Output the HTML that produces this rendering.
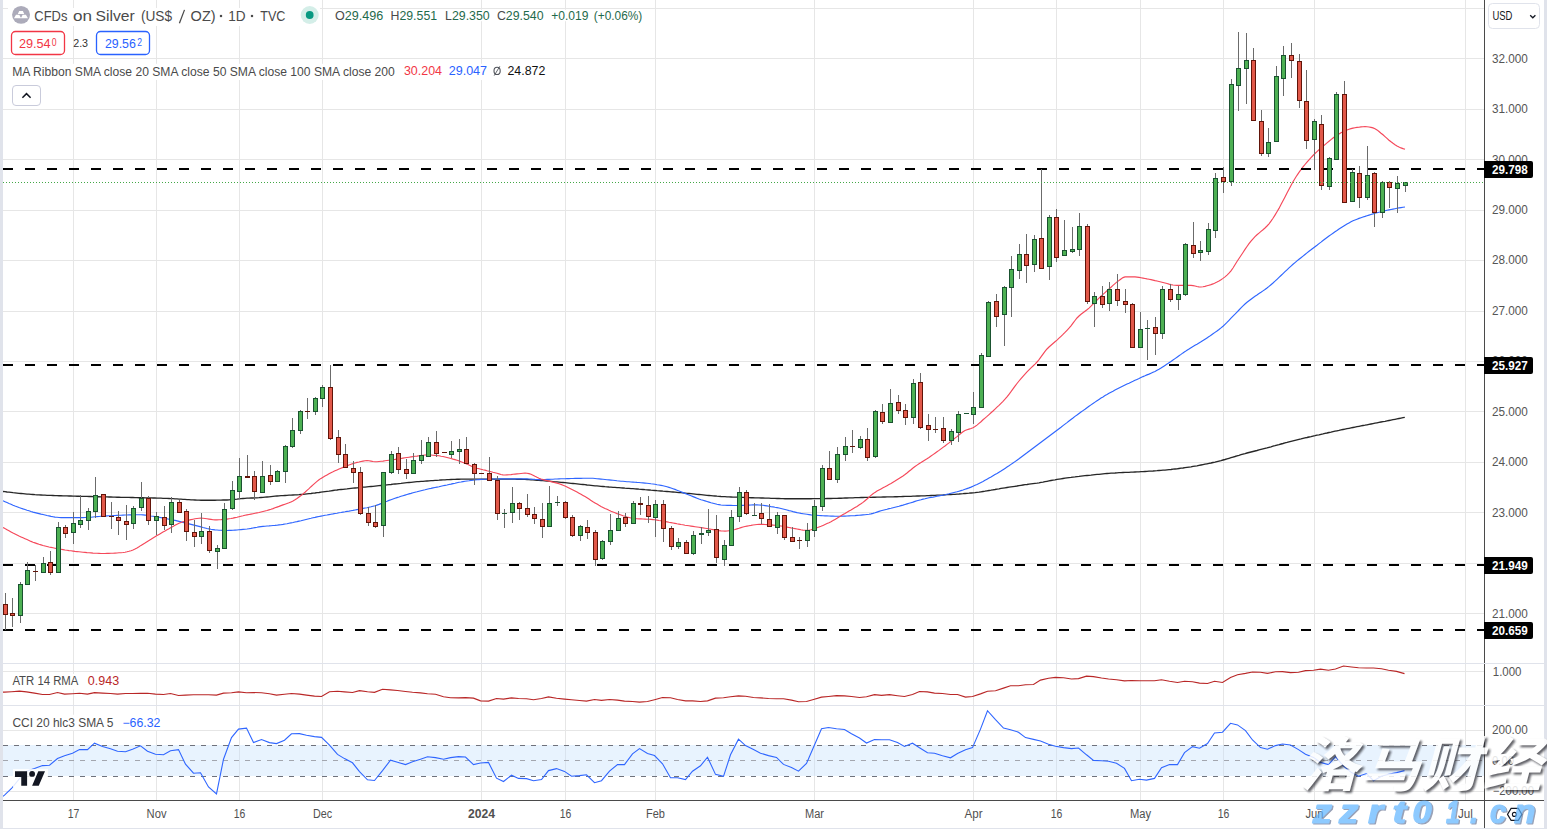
<!DOCTYPE html><html><head><meta charset="utf-8"><title>chart</title><style>html,body{margin:0;padding:0;background:#fff;width:1547px;height:829px;overflow:hidden}</style></head><body><svg width="1547" height="829" viewBox="0 0 1547 829" style="position:absolute;left:0;top:0;font-family:'Liberation Sans',sans-serif"><rect width="1547" height="829" fill="#fff"/><g shape-rendering="crispEdges"><rect x="73" y="0" width="1" height="800" fill="#e6e6e6"/><rect x="156" y="0" width="1" height="800" fill="#e6e6e6"/><rect x="239" y="0" width="1" height="800" fill="#e6e6e6"/><rect x="322" y="0" width="1" height="800" fill="#e6e6e6"/><rect x="481" y="0" width="1" height="800" fill="#e6e6e6"/><rect x="565" y="0" width="1" height="800" fill="#e6e6e6"/><rect x="655" y="0" width="1" height="800" fill="#e6e6e6"/><rect x="814" y="0" width="1" height="800" fill="#e6e6e6"/><rect x="973" y="0" width="1" height="800" fill="#e6e6e6"/><rect x="1056" y="0" width="1" height="800" fill="#e6e6e6"/><rect x="1140" y="0" width="1" height="800" fill="#e6e6e6"/><rect x="1223" y="0" width="1" height="800" fill="#e6e6e6"/><rect x="1314" y="0" width="1" height="800" fill="#e6e6e6"/><rect x="1465" y="0" width="1" height="800" fill="#e6e6e6"/><rect x="3" y="8" width="1481" height="1" fill="#e6e6e6"/><rect x="3" y="58" width="1481" height="1" fill="#e6e6e6"/><rect x="3" y="109" width="1481" height="1" fill="#e6e6e6"/><rect x="3" y="159" width="1481" height="1" fill="#e6e6e6"/><rect x="3" y="210" width="1481" height="1" fill="#e6e6e6"/><rect x="3" y="260" width="1481" height="1" fill="#e6e6e6"/><rect x="3" y="311" width="1481" height="1" fill="#e6e6e6"/><rect x="3" y="361" width="1481" height="1" fill="#e6e6e6"/><rect x="3" y="411" width="1481" height="1" fill="#e6e6e6"/><rect x="3" y="462" width="1481" height="1" fill="#e6e6e6"/><rect x="3" y="512" width="1481" height="1" fill="#e6e6e6"/><rect x="3" y="563" width="1481" height="1" fill="#e6e6e6"/><rect x="3" y="613" width="1481" height="1" fill="#e6e6e6"/><rect x="3" y="671" width="1481" height="1" fill="#e6e6e6"/><rect x="3" y="730" width="1481" height="1" fill="#e6e6e6"/><rect x="3" y="791" width="1481" height="1" fill="#e6e6e6"/><rect x="3" y="745" width="1481" height="31" fill="#e8f3fe"/><rect x="73" y="745" width="1" height="31" fill="#d9e3ee"/><rect x="156" y="745" width="1" height="31" fill="#d9e3ee"/><rect x="239" y="745" width="1" height="31" fill="#d9e3ee"/><rect x="322" y="745" width="1" height="31" fill="#d9e3ee"/><rect x="481" y="745" width="1" height="31" fill="#d9e3ee"/><rect x="565" y="745" width="1" height="31" fill="#d9e3ee"/><rect x="655" y="745" width="1" height="31" fill="#d9e3ee"/><rect x="814" y="745" width="1" height="31" fill="#d9e3ee"/><rect x="973" y="745" width="1" height="31" fill="#d9e3ee"/><rect x="1056" y="745" width="1" height="31" fill="#d9e3ee"/><rect x="1140" y="745" width="1" height="31" fill="#d9e3ee"/><rect x="1223" y="745" width="1" height="31" fill="#d9e3ee"/><rect x="1314" y="745" width="1" height="31" fill="#d9e3ee"/><rect x="1465" y="745" width="1" height="31" fill="#d9e3ee"/></g><line x1="3" y1="745.5" x2="1484" y2="745.5" stroke="#6f727c" stroke-width="1" stroke-dasharray="5 6" shape-rendering="crispEdges"/><line x1="3" y1="760.5" x2="1484" y2="760.5" stroke="#a3a6ae" stroke-width="1" stroke-dasharray="5 6" shape-rendering="crispEdges"/><line x1="3" y1="776.5" x2="1484" y2="776.5" stroke="#6f727c" stroke-width="1" stroke-dasharray="5 6" shape-rendering="crispEdges"/><polyline fill="none" stroke="#262626" stroke-width="1.35" points="3.0,491.5 5.0,491.7 7.0,492.0 9.0,492.2 11.0,492.4 13.0,492.7 15.0,492.9 17.0,493.1 19.0,493.3 21.0,493.5 23.0,493.7 25.0,493.9 27.0,494.1 29.0,494.2 31.0,494.4 33.0,494.5 35.0,494.7 37.0,494.8 39.0,494.9 41.0,495.0 43.0,495.1 45.0,495.2 47.0,495.3 49.0,495.3 51.0,495.4 53.0,495.5 55.0,495.6 57.0,495.6 59.0,495.7 61.0,495.7 63.0,495.8 65.0,495.9 67.0,495.9 69.0,496.0 71.0,496.0 73.0,496.1 75.0,496.1 77.0,496.2 79.0,496.2 81.0,496.3 83.0,496.3 85.0,496.4 87.0,496.4 89.0,496.5 91.0,496.5 93.0,496.6 95.0,496.6 97.0,496.7 99.0,496.7 101.0,496.8 103.0,496.8 105.0,496.9 107.0,496.9 109.0,497.0 111.0,497.0 113.0,497.1 115.0,497.1 117.0,497.2 119.0,497.2 121.0,497.3 123.0,497.3 125.0,497.3 127.0,497.4 129.0,497.4 131.0,497.5 133.0,497.5 135.0,497.6 137.0,497.6 139.0,497.7 141.0,497.7 143.0,497.7 145.0,497.8 147.0,497.8 149.0,497.9 151.0,497.9 153.0,498.0 155.0,498.0 157.0,498.1 159.0,498.1 161.0,498.2 163.0,498.3 165.0,498.3 167.0,498.4 169.0,498.5 171.0,498.6 173.0,498.7 175.0,498.8 177.0,498.9 179.0,499.1 181.0,499.2 183.0,499.3 185.0,499.4 187.0,499.6 189.0,499.7 191.0,499.8 193.0,499.9 195.0,500.0 197.0,500.1 199.0,500.1 201.0,500.2 203.0,500.2 205.0,500.2 207.0,500.2 209.0,500.2 211.0,500.2 213.0,500.2 215.0,500.2 217.0,500.1 219.0,500.1 221.0,500.1 223.0,500.0 225.0,500.0 227.0,500.0 229.0,499.9 231.0,499.7 233.0,499.6 235.0,499.4 237.0,499.2 239.0,498.9 241.0,498.7 243.0,498.5 245.0,498.4 247.0,498.2 249.0,498.1 251.0,498.0 253.0,498.0 255.0,497.9 257.0,497.8 259.0,497.7 261.0,497.5 263.0,497.4 265.0,497.2 267.0,497.0 269.0,496.8 271.0,496.6 273.0,496.4 275.0,496.2 277.0,496.0 279.0,495.9 281.0,495.7 283.0,495.6 285.0,495.5 287.0,495.4 289.0,495.2 291.0,495.1 293.0,495.0 295.0,494.9 297.0,494.8 299.0,494.7 301.0,494.5 303.0,494.3 305.0,494.1 307.0,493.9 309.0,493.7 311.0,493.5 313.0,493.2 315.0,493.0 317.0,492.7 319.0,492.5 321.0,492.2 323.0,491.9 325.0,491.6 327.0,491.3 329.0,491.1 331.0,490.8 333.0,490.5 335.0,490.2 337.0,490.0 339.0,489.7 341.0,489.5 343.0,489.3 345.0,489.1 347.0,488.9 349.0,488.6 351.0,488.4 353.0,488.2 355.0,488.0 357.0,487.8 359.0,487.6 361.0,487.4 363.0,487.2 365.0,487.1 367.0,486.9 369.0,486.7 371.0,486.5 373.0,486.3 375.0,486.1 377.0,485.9 379.0,485.7 381.0,485.5 383.0,485.3 385.0,485.1 387.0,484.9 389.0,484.7 391.0,484.5 393.0,484.2 395.0,484.0 397.0,483.8 399.0,483.6 401.0,483.4 403.0,483.1 405.0,482.9 407.0,482.7 409.0,482.5 411.0,482.3 413.0,482.1 415.0,481.9 417.0,481.7 419.0,481.6 421.0,481.4 423.0,481.3 425.0,481.1 427.0,481.0 429.0,480.9 431.0,480.7 433.0,480.6 435.0,480.4 437.0,480.3 439.0,480.2 441.0,480.0 443.0,479.9 445.0,479.8 447.0,479.7 449.0,479.6 451.0,479.5 453.0,479.4 455.0,479.3 457.0,479.2 459.0,479.2 461.0,479.1 463.0,479.1 465.0,479.1 467.0,479.1 469.0,479.1 471.0,479.1 473.0,479.1 475.0,479.1 477.0,479.1 479.0,479.1 481.0,479.1 483.0,479.1 485.0,479.1 487.0,479.1 489.0,479.1 491.0,479.1 493.0,479.1 495.0,479.1 497.0,479.1 499.0,479.1 501.0,479.1 503.0,479.1 505.0,479.1 507.0,479.1 509.0,479.1 511.0,479.1 513.0,479.1 515.0,479.1 517.0,479.2 519.0,479.2 521.0,479.2 523.0,479.3 525.0,479.4 527.0,479.5 529.0,479.6 531.0,479.8 533.0,479.9 535.0,480.1 537.0,480.3 539.0,480.4 541.0,480.6 543.0,480.7 545.0,480.9 547.0,481.1 549.0,481.2 551.0,481.4 553.0,481.6 555.0,481.8 557.0,481.9 559.0,482.1 561.0,482.3 563.0,482.5 565.0,482.7 567.0,482.9 569.0,483.1 571.0,483.3 573.0,483.5 575.0,483.7 577.0,483.9 579.0,484.1 581.0,484.3 583.0,484.5 585.0,484.7 587.0,485.0 589.0,485.2 591.0,485.4 593.0,485.6 595.0,485.8 597.0,485.9 599.0,486.1 601.0,486.3 603.0,486.5 605.0,486.7 607.0,486.8 609.0,487.0 611.0,487.1 613.0,487.3 615.0,487.4 617.0,487.6 619.0,487.7 621.0,487.9 623.0,488.0 625.0,488.2 627.0,488.3 629.0,488.4 631.0,488.6 633.0,488.7 635.0,488.9 637.0,489.0 639.0,489.2 641.0,489.3 643.0,489.5 645.0,489.7 647.0,489.8 649.0,490.0 651.0,490.2 653.0,490.3 655.0,490.5 657.0,490.7 659.0,490.8 661.0,491.0 663.0,491.2 665.0,491.3 667.0,491.5 669.0,491.7 671.0,491.9 673.0,492.0 675.0,492.2 677.0,492.4 679.0,492.6 681.0,492.7 683.0,492.9 685.0,493.1 687.0,493.3 689.0,493.5 691.0,493.7 693.0,493.9 695.0,494.1 697.0,494.3 699.0,494.5 701.0,494.7 703.0,494.9 705.0,495.1 707.0,495.3 709.0,495.5 711.0,495.7 713.0,495.9 715.0,496.0 717.0,496.2 719.0,496.3 721.0,496.5 723.0,496.6 725.0,496.7 727.0,496.8 729.0,496.9 731.0,497.0 733.0,497.1 735.0,497.1 737.0,497.2 739.0,497.3 741.0,497.4 743.0,497.4 745.0,497.5 747.0,497.6 749.0,497.6 751.0,497.7 753.0,497.7 755.0,497.8 757.0,497.8 759.0,497.9 761.0,498.0 763.0,498.0 765.0,498.1 767.0,498.1 769.0,498.2 771.0,498.3 773.0,498.3 775.0,498.4 777.0,498.5 779.0,498.5 781.0,498.6 783.0,498.6 785.0,498.7 787.0,498.7 789.0,498.7 791.0,498.7 793.0,498.7 795.0,498.7 797.0,498.7 799.0,498.7 801.0,498.7 803.0,498.7 805.0,498.7 807.0,498.7 809.0,498.7 811.0,498.7 813.0,498.6 815.0,498.6 817.0,498.6 819.0,498.6 821.0,498.6 823.0,498.6 825.0,498.6 827.0,498.5 829.0,498.5 831.0,498.5 833.0,498.4 835.0,498.3 837.0,498.3 839.0,498.2 841.0,498.2 843.0,498.1 845.0,498.0 847.0,498.0 849.0,497.9 851.0,497.8 853.0,497.8 855.0,497.7 857.0,497.6 859.0,497.6 861.0,497.5 863.0,497.5 865.0,497.4 867.0,497.4 869.0,497.3 871.0,497.3 873.0,497.2 875.0,497.2 877.0,497.1 879.0,497.1 881.0,497.1 883.0,497.0 885.0,497.0 887.0,496.9 889.0,496.9 891.0,496.8 893.0,496.8 895.0,496.7 897.0,496.7 899.0,496.6 901.0,496.6 903.0,496.5 905.0,496.4 907.0,496.4 909.0,496.3 911.0,496.3 913.0,496.2 915.0,496.1 917.0,496.0 919.0,496.0 921.0,495.9 923.0,495.8 925.0,495.8 927.0,495.7 929.0,495.6 931.0,495.5 933.0,495.4 935.0,495.3 937.0,495.2 939.0,495.1 941.0,495.1 943.0,495.0 945.0,494.8 947.0,494.7 949.0,494.6 951.0,494.5 953.0,494.4 955.0,494.3 957.0,494.1 959.0,494.0 961.0,493.8 963.0,493.7 965.0,493.5 967.0,493.3 969.0,493.2 971.0,493.0 973.0,492.8 975.0,492.6 977.0,492.3 979.0,492.1 981.0,491.8 983.0,491.5 985.0,491.2 987.0,490.8 989.0,490.5 991.0,490.2 993.0,489.8 995.0,489.5 997.0,489.1 999.0,488.8 1001.0,488.4 1003.0,488.1 1005.0,487.8 1007.0,487.5 1009.0,487.2 1011.0,486.9 1013.0,486.6 1015.0,486.3 1017.0,486.0 1019.0,485.6 1021.0,485.3 1023.0,485.0 1025.0,484.7 1027.0,484.5 1029.0,484.2 1031.0,483.9 1033.0,483.6 1035.0,483.3 1037.0,483.1 1039.0,482.8 1041.0,482.4 1043.0,482.1 1045.0,481.7 1047.0,481.3 1049.0,480.9 1051.0,480.5 1053.0,480.1 1055.0,479.8 1057.0,479.4 1059.0,479.1 1061.0,478.8 1063.0,478.5 1065.0,478.2 1067.0,477.9 1069.0,477.6 1071.0,477.4 1073.0,477.1 1075.0,476.9 1077.0,476.6 1079.0,476.4 1081.0,476.1 1083.0,475.9 1085.0,475.7 1087.0,475.5 1089.0,475.3 1091.0,475.1 1093.0,474.8 1095.0,474.6 1097.0,474.4 1099.0,474.3 1101.0,474.1 1103.0,473.9 1105.0,473.7 1107.0,473.5 1109.0,473.4 1111.0,473.2 1113.0,473.1 1115.0,473.0 1117.0,472.8 1119.0,472.7 1121.0,472.6 1123.0,472.5 1125.0,472.4 1127.0,472.4 1129.0,472.3 1131.0,472.2 1133.0,472.1 1135.0,472.0 1137.0,471.9 1139.0,471.8 1141.0,471.7 1143.0,471.6 1145.0,471.5 1147.0,471.4 1149.0,471.2 1151.0,471.1 1153.0,471.0 1155.0,470.8 1157.0,470.7 1159.0,470.5 1161.0,470.4 1163.0,470.2 1165.0,470.1 1167.0,469.9 1169.0,469.7 1171.0,469.5 1173.0,469.2 1175.0,469.0 1177.0,468.8 1179.0,468.5 1181.0,468.2 1183.0,468.0 1185.0,467.7 1187.0,467.4 1189.0,467.1 1191.0,466.8 1193.0,466.4 1195.0,466.1 1197.0,465.8 1199.0,465.4 1201.0,465.0 1203.0,464.6 1205.0,464.2 1207.0,463.8 1209.0,463.4 1211.0,463.0 1213.0,462.5 1215.0,462.1 1217.0,461.6 1219.0,461.1 1221.0,460.6 1223.0,460.0 1225.0,459.5 1227.0,458.9 1229.0,458.3 1231.0,457.7 1233.0,457.1 1235.0,456.5 1237.0,455.8 1239.0,455.3 1241.0,454.7 1243.0,454.1 1245.0,453.6 1247.0,453.0 1249.0,452.5 1251.0,452.0 1253.0,451.5 1255.0,451.0 1257.0,450.5 1259.0,449.9 1261.0,449.4 1263.0,448.9 1265.0,448.4 1267.0,447.9 1269.0,447.3 1271.0,446.8 1273.0,446.2 1275.0,445.7 1277.0,445.1 1279.0,444.6 1281.0,444.0 1283.0,443.5 1285.0,442.9 1287.0,442.4 1289.0,441.8 1291.0,441.3 1293.0,440.8 1295.0,440.3 1297.0,439.8 1299.0,439.3 1301.0,438.9 1303.0,438.4 1305.0,437.9 1307.0,437.5 1309.0,437.0 1311.0,436.6 1313.0,436.1 1315.0,435.7 1317.0,435.2 1319.0,434.8 1321.0,434.3 1323.0,433.9 1325.0,433.4 1327.0,433.0 1329.0,432.5 1331.0,432.1 1333.0,431.6 1335.0,431.2 1337.0,430.8 1339.0,430.4 1341.0,429.9 1343.0,429.5 1345.0,429.1 1347.0,428.7 1349.0,428.3 1351.0,427.9 1353.0,427.5 1355.0,427.1 1357.0,426.7 1359.0,426.3 1361.0,425.9 1363.0,425.5 1365.0,425.2 1367.0,424.8 1369.0,424.4 1371.0,424.0 1373.0,423.6 1375.0,423.2 1377.0,422.8 1379.0,422.4 1381.0,422.0 1383.0,421.6 1385.0,421.3 1387.0,420.9 1389.0,420.5 1391.0,420.1 1393.0,419.7 1395.0,419.3 1397.0,418.9 1399.0,418.5 1401.0,418.1 1403.0,417.7 1404.8,417.4"/><polyline fill="none" stroke="#2f66ff" stroke-width="1.15" points="3.0,500.8 5.0,501.7 7.0,502.6 9.0,503.5 11.0,504.3 13.0,505.2 15.0,506.0 17.0,506.7 19.0,507.5 21.0,508.2 23.0,508.9 25.0,509.5 27.0,510.2 29.0,510.8 31.0,511.5 33.0,512.1 35.0,512.6 37.0,513.1 39.0,513.6 41.0,514.1 43.0,514.5 45.0,515.0 47.0,515.5 49.0,515.9 51.0,516.4 53.0,516.7 55.0,517.1 57.0,517.3 59.0,517.5 61.0,517.6 63.0,517.6 65.0,517.6 67.0,517.6 69.0,517.6 71.0,517.6 73.0,517.6 75.0,517.6 77.0,517.6 79.0,517.6 81.0,517.6 83.0,517.6 85.0,517.5 87.0,517.4 89.0,517.3 91.0,517.2 93.0,517.0 95.0,516.8 97.0,516.6 99.0,516.5 101.0,516.3 103.0,516.2 105.0,516.1 107.0,515.9 109.0,515.8 111.0,515.7 113.0,515.6 115.0,515.5 117.0,515.4 119.0,515.3 121.0,515.2 123.0,515.1 125.0,515.0 127.0,515.0 129.0,514.9 131.0,514.8 133.0,514.8 135.0,514.7 137.0,514.7 139.0,514.7 141.0,514.7 143.0,514.9 145.0,515.1 147.0,515.3 149.0,515.6 151.0,516.0 153.0,516.3 155.0,516.6 157.0,517.0 159.0,517.3 161.0,517.6 163.0,518.0 165.0,518.4 167.0,518.8 169.0,519.2 171.0,519.6 173.0,520.0 175.0,520.4 177.0,520.9 179.0,521.4 181.0,521.9 183.0,522.4 185.0,522.9 187.0,523.4 189.0,523.9 191.0,524.4 193.0,524.9 195.0,525.4 197.0,525.9 199.0,526.4 201.0,526.9 203.0,527.5 205.0,528.0 207.0,528.5 209.0,528.9 211.0,529.3 213.0,529.6 215.0,529.9 217.0,530.0 219.0,530.2 221.0,530.3 223.0,530.4 225.0,530.5 227.0,530.5 229.0,530.4 231.0,530.4 233.0,530.2 235.0,530.1 237.0,530.0 239.0,529.8 241.0,529.6 243.0,529.4 245.0,529.2 247.0,529.0 249.0,528.7 251.0,528.4 253.0,528.0 255.0,527.6 257.0,527.3 259.0,526.9 261.0,526.6 263.0,526.4 265.0,526.2 267.0,526.0 269.0,525.9 271.0,525.7 273.0,525.5 275.0,525.4 277.0,525.2 279.0,524.9 281.0,524.7 283.0,524.4 285.0,524.0 287.0,523.7 289.0,523.3 291.0,522.9 293.0,522.5 295.0,522.0 297.0,521.6 299.0,521.1 301.0,520.7 303.0,520.2 305.0,519.7 307.0,519.2 309.0,518.7 311.0,518.3 313.0,517.8 315.0,517.4 317.0,516.9 319.0,516.5 321.0,516.1 323.0,515.7 325.0,515.3 327.0,515.0 329.0,514.6 331.0,514.2 333.0,513.9 335.0,513.5 337.0,513.2 339.0,512.8 341.0,512.5 343.0,512.1 345.0,511.8 347.0,511.4 349.0,511.1 351.0,510.7 353.0,510.4 355.0,510.0 357.0,509.6 359.0,509.2 361.0,508.8 363.0,508.4 365.0,508.0 367.0,507.7 369.0,507.2 371.0,506.8 373.0,506.3 375.0,505.8 377.0,505.1 379.0,504.4 381.0,503.6 383.0,502.8 385.0,501.9 387.0,501.2 389.0,500.4 391.0,499.7 393.0,499.0 395.0,498.3 397.0,497.6 399.0,497.0 401.0,496.3 403.0,495.7 405.0,495.1 407.0,494.5 409.0,493.9 411.0,493.4 413.0,492.8 415.0,492.3 417.0,491.8 419.0,491.2 421.0,490.7 423.0,490.2 425.0,489.8 427.0,489.3 429.0,488.8 431.0,488.4 433.0,487.9 435.0,487.5 437.0,487.1 439.0,486.7 441.0,486.2 443.0,485.8 445.0,485.4 447.0,485.0 449.0,484.5 451.0,484.1 453.0,483.6 455.0,483.2 457.0,482.7 459.0,482.3 461.0,482.0 463.0,481.6 465.0,481.3 467.0,481.0 469.0,480.8 471.0,480.5 473.0,480.2 475.0,480.0 477.0,479.8 479.0,479.6 481.0,479.4 483.0,479.3 485.0,479.2 487.0,479.2 489.0,479.1 491.0,479.1 493.0,479.0 495.0,479.0 497.0,479.0 499.0,478.9 501.0,478.9 503.0,478.9 505.0,478.9 507.0,478.9 509.0,478.9 511.0,478.9 513.0,478.9 515.0,478.9 517.0,478.9 519.0,478.9 521.0,478.9 523.0,478.9 525.0,478.9 527.0,478.9 529.0,479.0 531.0,479.1 533.0,479.2 535.0,479.4 537.0,479.5 539.0,479.6 541.0,479.6 543.0,479.6 545.0,479.5 547.0,479.4 549.0,479.4 551.0,479.3 553.0,479.2 555.0,479.0 557.0,479.0 559.0,478.9 561.0,478.8 563.0,478.7 565.0,478.7 567.0,478.6 569.0,478.6 571.0,478.5 573.0,478.5 575.0,478.4 577.0,478.4 579.0,478.3 581.0,478.3 583.0,478.2 585.0,478.2 587.0,478.2 589.0,478.2 591.0,478.2 593.0,478.3 595.0,478.5 597.0,478.7 599.0,478.9 601.0,479.1 603.0,479.3 605.0,479.5 607.0,479.7 609.0,479.9 611.0,480.1 613.0,480.3 615.0,480.5 617.0,480.8 619.0,481.0 621.0,481.2 623.0,481.3 625.0,481.5 627.0,481.7 629.0,481.8 631.0,482.0 633.0,482.1 635.0,482.2 637.0,482.4 639.0,482.5 641.0,482.7 643.0,482.9 645.0,483.1 647.0,483.3 649.0,483.5 651.0,483.8 653.0,484.0 655.0,484.3 657.0,484.7 659.0,485.0 661.0,485.4 663.0,485.8 665.0,486.3 667.0,486.8 669.0,487.4 671.0,488.0 673.0,488.7 675.0,489.4 677.0,490.2 679.0,491.0 681.0,491.8 683.0,492.6 685.0,493.4 687.0,494.2 689.0,495.0 691.0,495.8 693.0,496.6 695.0,497.4 697.0,498.2 699.0,499.0 701.0,499.7 703.0,500.3 705.0,500.9 707.0,501.5 709.0,502.1 711.0,502.7 713.0,503.2 715.0,503.7 717.0,504.2 719.0,504.6 721.0,505.0 723.0,505.2 725.0,505.3 727.0,505.4 729.0,505.4 731.0,505.4 733.0,505.5 735.0,505.5 737.0,505.5 739.0,505.5 741.0,505.4 743.0,505.4 745.0,505.3 747.0,505.2 749.0,505.1 751.0,505.0 753.0,504.9 755.0,504.9 757.0,504.9 759.0,505.0 761.0,505.1 763.0,505.3 765.0,505.6 767.0,505.9 769.0,506.2 771.0,506.6 773.0,506.9 775.0,507.3 777.0,507.6 779.0,508.0 781.0,508.5 783.0,509.0 785.0,509.5 787.0,510.0 789.0,510.6 791.0,511.0 793.0,511.6 795.0,512.1 797.0,512.6 799.0,513.0 801.0,513.4 803.0,513.7 805.0,514.0 807.0,514.3 809.0,514.6 811.0,514.9 813.0,515.1 815.0,515.3 817.0,515.4 819.0,515.5 821.0,515.6 823.0,515.7 825.0,515.9 827.0,515.9 829.0,516.0 831.0,516.1 833.0,516.1 835.0,516.2 837.0,516.2 839.0,516.2 841.0,516.2 843.0,516.1 845.0,516.1 847.0,516.0 849.0,515.9 851.0,515.8 853.0,515.7 855.0,515.6 857.0,515.4 859.0,515.3 861.0,515.1 863.0,514.9 865.0,514.7 867.0,514.5 869.0,514.3 871.0,513.9 873.0,513.4 875.0,512.8 877.0,512.1 879.0,511.4 881.0,510.8 883.0,510.2 885.0,509.7 887.0,509.2 889.0,508.6 891.0,508.2 893.0,507.7 895.0,507.2 897.0,506.7 899.0,506.2 901.0,505.6 903.0,505.1 905.0,504.5 907.0,503.9 909.0,503.3 911.0,502.7 913.0,502.1 915.0,501.4 917.0,500.8 919.0,500.2 921.0,499.7 923.0,499.1 925.0,498.7 927.0,498.2 929.0,497.8 931.0,497.4 933.0,497.1 935.0,496.7 937.0,496.3 939.0,495.9 941.0,495.5 943.0,495.1 945.0,494.7 947.0,494.2 949.0,493.8 951.0,493.3 953.0,492.8 955.0,492.3 957.0,491.8 959.0,491.2 961.0,490.6 963.0,490.0 965.0,489.3 967.0,488.6 969.0,487.9 971.0,487.1 973.0,486.2 975.0,485.3 977.0,484.4 979.0,483.4 981.0,482.4 983.0,481.4 985.0,480.3 987.0,479.2 989.0,478.1 991.0,477.0 993.0,475.8 995.0,474.6 997.0,473.5 999.0,472.2 1001.0,471.0 1003.0,469.7 1005.0,468.4 1007.0,467.1 1009.0,465.8 1011.0,464.4 1013.0,463.0 1015.0,461.6 1017.0,460.2 1019.0,458.8 1021.0,457.3 1023.0,455.8 1025.0,454.3 1027.0,452.8 1029.0,451.2 1031.0,449.7 1033.0,448.2 1035.0,446.7 1037.0,445.2 1039.0,443.7 1041.0,442.2 1043.0,440.7 1045.0,439.2 1047.0,437.7 1049.0,436.2 1051.0,434.7 1053.0,433.2 1055.0,431.7 1057.0,430.2 1059.0,428.7 1061.0,427.2 1063.0,425.6 1065.0,424.1 1067.0,422.6 1069.0,421.0 1071.0,419.5 1073.0,418.0 1075.0,416.4 1077.0,415.0 1079.0,413.5 1081.0,412.0 1083.0,410.6 1085.0,409.2 1087.0,407.7 1089.0,406.3 1091.0,404.9 1093.0,403.5 1095.0,402.1 1097.0,400.7 1099.0,399.4 1101.0,398.1 1103.0,396.9 1105.0,395.6 1107.0,394.5 1109.0,393.3 1111.0,392.2 1113.0,391.2 1115.0,390.1 1117.0,389.1 1119.0,388.1 1121.0,387.1 1123.0,386.1 1125.0,385.1 1127.0,384.1 1129.0,383.2 1131.0,382.2 1133.0,381.3 1135.0,380.3 1137.0,379.4 1139.0,378.5 1141.0,377.5 1143.0,376.6 1145.0,375.8 1147.0,374.9 1149.0,374.1 1151.0,373.2 1153.0,372.3 1155.0,371.4 1157.0,370.3 1159.0,369.2 1161.0,368.0 1163.0,366.7 1165.0,365.4 1167.0,364.1 1169.0,362.7 1171.0,361.4 1173.0,360.0 1175.0,358.6 1177.0,357.2 1179.0,355.8 1181.0,354.4 1183.0,352.9 1185.0,351.6 1187.0,350.2 1189.0,349.0 1191.0,347.7 1193.0,346.5 1195.0,345.3 1197.0,344.2 1199.0,343.0 1201.0,341.8 1203.0,340.5 1205.0,339.2 1207.0,337.9 1209.0,336.6 1211.0,335.2 1213.0,333.8 1215.0,332.4 1217.0,331.0 1219.0,329.5 1221.0,327.9 1223.0,326.2 1225.0,324.3 1227.0,322.4 1229.0,320.3 1231.0,318.2 1233.0,316.2 1235.0,314.2 1237.0,312.1 1239.0,310.0 1241.0,307.9 1243.0,305.9 1245.0,304.0 1247.0,302.3 1249.0,300.7 1251.0,299.2 1253.0,297.7 1255.0,296.3 1257.0,295.0 1259.0,293.6 1261.0,292.3 1263.0,290.9 1265.0,289.5 1267.0,288.0 1269.0,286.4 1271.0,284.7 1273.0,283.0 1275.0,281.2 1277.0,279.3 1279.0,277.4 1281.0,275.5 1283.0,273.6 1285.0,271.7 1287.0,269.8 1289.0,267.9 1291.0,266.1 1293.0,264.3 1295.0,262.6 1297.0,260.9 1299.0,259.3 1301.0,257.7 1303.0,256.1 1305.0,254.5 1307.0,252.9 1309.0,251.3 1311.0,249.8 1313.0,248.2 1315.0,246.7 1317.0,245.2 1319.0,243.6 1321.0,242.1 1323.0,240.5 1325.0,239.0 1327.0,237.5 1329.0,236.0 1331.0,234.6 1333.0,233.2 1335.0,231.8 1337.0,230.5 1339.0,229.1 1341.0,227.8 1343.0,226.5 1345.0,225.2 1347.0,224.0 1349.0,222.9 1351.0,221.8 1353.0,220.8 1355.0,220.0 1357.0,219.2 1359.0,218.4 1361.0,217.7 1363.0,217.0 1365.0,216.4 1367.0,215.7 1369.0,215.1 1371.0,214.5 1373.0,213.9 1375.0,213.3 1377.0,212.7 1379.0,212.2 1381.0,211.7 1383.0,211.2 1385.0,210.8 1387.0,210.3 1389.0,209.9 1391.0,209.5 1393.0,209.1 1395.0,208.7 1397.0,208.3 1399.0,207.9 1401.0,207.6 1403.0,207.3 1405.0,207.0"/><polyline fill="none" stroke="#f5485a" stroke-width="1.15" points="3.0,527.4 5.0,528.6 7.0,529.7 9.0,530.8 11.0,531.9 13.0,533.0 15.0,534.0 17.0,535.0 19.0,536.0 21.0,536.9 23.0,537.8 25.0,538.7 27.0,539.6 29.0,540.5 31.0,541.4 33.0,542.2 35.0,542.9 37.0,543.6 39.0,544.3 41.0,544.9 43.0,545.5 45.0,546.0 47.0,546.5 49.0,547.0 51.0,547.4 53.0,547.8 55.0,548.2 57.0,548.6 59.0,549.0 61.0,549.3 63.0,549.6 65.0,550.0 67.0,550.3 69.0,550.6 71.0,550.8 73.0,551.1 75.0,551.4 77.0,551.6 79.0,551.8 81.0,552.0 83.0,552.2 85.0,552.4 87.0,552.6 89.0,552.7 91.0,552.9 93.0,553.1 95.0,553.2 97.0,553.3 99.0,553.4 101.0,553.5 103.0,553.5 105.0,553.5 107.0,553.4 109.0,553.4 111.0,553.3 113.0,553.2 115.0,553.1 117.0,553.0 119.0,552.8 121.0,552.7 123.0,552.5 125.0,552.2 127.0,551.8 129.0,551.3 131.0,550.7 133.0,550.0 135.0,549.1 137.0,548.0 139.0,546.8 141.0,545.4 143.0,544.2 145.0,543.0 147.0,541.7 149.0,540.5 151.0,539.3 153.0,538.0 155.0,536.8 157.0,535.6 159.0,534.4 161.0,533.2 163.0,532.0 165.0,531.0 167.0,529.8 169.0,528.7 171.0,527.5 173.0,526.4 175.0,525.3 177.0,524.3 179.0,523.3 181.0,522.5 183.0,521.8 185.0,521.2 187.0,520.6 189.0,520.1 191.0,519.6 193.0,519.2 195.0,518.8 197.0,518.5 199.0,518.3 201.0,518.2 203.0,518.3 205.0,518.5 207.0,518.8 209.0,519.1 211.0,519.4 213.0,519.7 215.0,519.8 217.0,519.8 219.0,519.7 221.0,519.6 223.0,519.4 225.0,519.3 227.0,519.1 229.0,518.8 231.0,518.5 233.0,518.1 235.0,517.6 237.0,517.2 239.0,516.7 241.0,516.2 243.0,515.8 245.0,515.3 247.0,514.9 249.0,514.5 251.0,514.1 253.0,513.7 255.0,513.3 257.0,512.9 259.0,512.5 261.0,512.0 263.0,511.5 265.0,511.0 267.0,510.5 269.0,509.9 271.0,509.3 273.0,508.6 275.0,507.8 277.0,507.1 279.0,506.4 281.0,505.6 283.0,504.9 285.0,504.2 287.0,503.5 289.0,502.8 291.0,501.9 293.0,501.0 295.0,499.8 297.0,498.5 299.0,497.0 301.0,495.5 303.0,493.9 305.0,492.2 307.0,490.4 309.0,488.6 311.0,486.7 313.0,484.9 315.0,483.1 317.0,481.4 319.0,479.8 321.0,478.4 323.0,477.2 325.0,476.0 327.0,474.9 329.0,473.8 331.0,472.7 333.0,471.8 335.0,470.8 337.0,469.9 339.0,469.0 341.0,468.2 343.0,467.4 345.0,466.6 347.0,465.8 349.0,465.0 351.0,464.3 353.0,463.6 355.0,463.0 357.0,462.4 359.0,462.0 361.0,461.5 363.0,461.1 365.0,460.8 367.0,460.6 369.0,460.7 371.0,461.1 373.0,461.5 375.0,461.7 377.0,461.7 379.0,461.5 381.0,461.3 383.0,461.1 385.0,460.8 387.0,460.5 389.0,460.2 391.0,459.9 393.0,459.6 395.0,459.4 397.0,459.1 399.0,458.8 401.0,458.5 403.0,458.1 405.0,457.8 407.0,457.5 409.0,457.2 411.0,456.9 413.0,456.6 415.0,456.3 417.0,456.1 419.0,455.8 421.0,455.5 423.0,455.2 425.0,455.0 427.0,454.9 429.0,454.9 431.0,455.0 433.0,455.2 435.0,455.4 437.0,455.6 439.0,455.8 441.0,456.2 443.0,456.5 445.0,457.0 447.0,457.5 449.0,458.0 451.0,458.5 453.0,459.1 455.0,459.6 457.0,460.2 459.0,460.9 461.0,461.7 463.0,462.5 465.0,463.3 467.0,464.1 469.0,465.1 471.0,466.0 473.0,466.9 475.0,467.6 477.0,468.2 479.0,468.7 481.0,469.2 483.0,469.7 485.0,470.1 487.0,470.7 489.0,471.2 491.0,471.7 493.0,472.3 495.0,472.8 497.0,473.3 499.0,473.9 501.0,474.5 503.0,474.9 505.0,475.0 507.0,474.9 509.0,474.8 511.0,474.6 513.0,474.3 515.0,474.1 517.0,473.9 519.0,473.7 521.0,473.5 523.0,473.3 525.0,473.1 527.0,473.2 529.0,473.6 531.0,474.3 533.0,475.2 535.0,476.3 537.0,477.3 539.0,478.2 541.0,479.0 543.0,479.6 545.0,480.1 547.0,480.6 549.0,481.1 551.0,481.6 553.0,482.1 555.0,482.6 557.0,483.1 559.0,483.7 561.0,484.4 563.0,485.2 565.0,486.0 567.0,486.9 569.0,487.9 571.0,488.9 573.0,489.9 575.0,491.0 577.0,492.1 579.0,493.2 581.0,494.3 583.0,495.4 585.0,496.6 587.0,497.8 589.0,499.1 591.0,500.4 593.0,501.7 595.0,502.9 597.0,504.1 599.0,505.3 601.0,506.4 603.0,507.4 605.0,508.4 607.0,509.3 609.0,510.3 611.0,511.2 613.0,512.0 615.0,512.8 617.0,513.6 619.0,514.3 621.0,515.0 623.0,515.7 625.0,516.3 627.0,517.0 629.0,517.5 631.0,518.0 633.0,518.4 635.0,518.6 637.0,518.8 639.0,518.9 641.0,518.9 643.0,519.0 645.0,519.1 647.0,519.2 649.0,519.3 651.0,519.4 653.0,519.6 655.0,519.8 657.0,520.1 659.0,520.5 661.0,520.8 663.0,521.2 665.0,521.5 667.0,521.9 669.0,522.3 671.0,522.6 673.0,523.0 675.0,523.4 677.0,523.8 679.0,524.1 681.0,524.5 683.0,524.8 685.0,525.2 687.0,525.5 689.0,525.8 691.0,526.1 693.0,526.4 695.0,526.7 697.0,527.0 699.0,527.3 701.0,527.6 703.0,527.9 705.0,528.2 707.0,528.5 709.0,528.9 711.0,529.2 713.0,529.6 715.0,530.0 717.0,530.4 719.0,530.7 721.0,530.9 723.0,531.0 725.0,531.1 727.0,531.0 729.0,530.7 731.0,530.4 733.0,530.0 735.0,529.5 737.0,528.9 739.0,528.3 741.0,527.6 743.0,527.0 745.0,526.5 747.0,526.1 749.0,525.7 751.0,525.4 753.0,525.0 755.0,524.7 757.0,524.5 759.0,524.4 761.0,524.4 763.0,524.4 765.0,524.5 767.0,524.6 769.0,524.8 771.0,524.9 773.0,525.1 775.0,525.3 777.0,525.5 779.0,525.7 781.0,526.0 783.0,526.3 785.0,526.7 787.0,527.1 789.0,527.5 791.0,527.9 793.0,528.2 795.0,528.6 797.0,529.0 799.0,529.4 801.0,529.8 803.0,530.1 805.0,530.3 807.0,530.4 809.0,530.2 811.0,529.7 813.0,529.1 815.0,528.4 817.0,527.7 819.0,527.0 821.0,526.3 823.0,525.4 825.0,524.5 827.0,523.6 829.0,522.7 831.0,521.7 833.0,520.6 835.0,519.4 837.0,518.2 839.0,516.9 841.0,515.7 843.0,514.5 845.0,513.4 847.0,512.2 849.0,511.1 851.0,510.0 853.0,508.8 855.0,507.6 857.0,506.4 859.0,505.1 861.0,503.8 863.0,502.4 865.0,500.7 867.0,499.0 869.0,497.2 871.0,495.4 873.0,493.8 875.0,492.4 877.0,491.1 879.0,490.0 881.0,488.9 883.0,487.8 885.0,486.8 887.0,485.7 889.0,484.6 891.0,483.5 893.0,482.3 895.0,481.1 897.0,479.8 899.0,478.5 901.0,477.2 903.0,475.9 905.0,474.5 907.0,473.0 909.0,471.3 911.0,469.7 913.0,468.0 915.0,466.5 917.0,465.1 919.0,463.7 921.0,462.5 923.0,461.2 925.0,459.9 927.0,458.7 929.0,457.4 931.0,456.0 933.0,454.6 935.0,453.2 937.0,451.8 939.0,450.4 941.0,448.9 943.0,447.4 945.0,446.0 947.0,444.4 949.0,442.9 951.0,441.3 953.0,439.7 955.0,438.1 957.0,436.6 959.0,435.0 961.0,433.3 963.0,431.7 965.0,430.5 967.0,429.7 969.0,429.1 971.0,428.5 973.0,427.7 975.0,426.5 977.0,425.1 979.0,423.4 981.0,421.7 983.0,419.8 985.0,418.1 987.0,416.4 989.0,414.6 991.0,412.8 993.0,411.0 995.0,409.1 997.0,407.2 999.0,405.3 1001.0,403.3 1003.0,401.3 1005.0,399.2 1007.0,396.9 1009.0,394.3 1011.0,391.7 1013.0,388.9 1015.0,386.2 1017.0,383.5 1019.0,381.0 1021.0,378.6 1023.0,376.3 1025.0,374.1 1027.0,371.9 1029.0,369.8 1031.0,367.8 1033.0,366.0 1035.0,364.1 1037.0,362.0 1039.0,359.6 1041.0,356.9 1043.0,354.1 1045.0,351.4 1047.0,349.0 1049.0,347.0 1051.0,345.2 1053.0,343.5 1055.0,341.8 1057.0,340.1 1059.0,338.2 1061.0,336.3 1063.0,334.4 1065.0,332.4 1067.0,330.3 1069.0,328.2 1071.0,325.9 1073.0,323.2 1075.0,320.5 1077.0,318.0 1079.0,316.0 1081.0,314.3 1083.0,312.8 1085.0,311.3 1087.0,309.8 1089.0,308.1 1091.0,306.2 1093.0,304.1 1095.0,302.1 1097.0,300.1 1099.0,298.1 1101.0,296.2 1103.0,294.4 1105.0,292.6 1107.0,290.8 1109.0,289.0 1111.0,287.2 1113.0,285.4 1115.0,283.6 1117.0,281.9 1119.0,280.5 1121.0,279.0 1123.0,277.6 1125.0,276.9 1127.0,276.9 1129.0,276.9 1131.0,276.9 1133.0,276.9 1135.0,276.9 1137.0,277.1 1139.0,277.4 1141.0,277.7 1143.0,278.1 1145.0,278.5 1147.0,278.9 1149.0,279.2 1151.0,279.6 1153.0,280.1 1155.0,280.6 1157.0,281.0 1159.0,281.5 1161.0,282.0 1163.0,282.5 1165.0,283.0 1167.0,283.5 1169.0,284.1 1171.0,284.6 1173.0,285.0 1175.0,285.3 1177.0,285.4 1179.0,285.4 1181.0,285.4 1183.0,285.4 1185.0,285.4 1187.0,285.4 1189.0,285.4 1191.0,285.4 1193.0,285.6 1195.0,286.0 1197.0,286.5 1199.0,286.9 1201.0,287.0 1203.0,286.8 1205.0,286.4 1207.0,285.8 1209.0,285.2 1211.0,284.6 1213.0,283.9 1215.0,283.0 1217.0,282.0 1219.0,280.9 1221.0,279.7 1223.0,278.4 1225.0,276.9 1227.0,275.1 1229.0,273.2 1231.0,270.9 1233.0,268.0 1235.0,264.8 1237.0,261.5 1239.0,258.5 1241.0,255.5 1243.0,252.5 1245.0,249.4 1247.0,246.5 1249.0,243.7 1251.0,241.1 1253.0,238.8 1255.0,236.7 1257.0,234.8 1259.0,233.1 1261.0,231.4 1263.0,229.8 1265.0,228.0 1267.0,226.0 1269.0,223.8 1271.0,221.2 1273.0,218.3 1275.0,215.1 1277.0,211.8 1279.0,208.4 1281.0,204.6 1283.0,200.8 1285.0,197.0 1287.0,193.1 1289.0,189.3 1291.0,185.4 1293.0,181.8 1295.0,178.5 1297.0,175.3 1299.0,172.4 1301.0,169.6 1303.0,166.9 1305.0,164.5 1307.0,162.1 1309.0,159.8 1311.0,157.6 1313.0,155.5 1315.0,153.5 1317.0,151.6 1319.0,149.8 1321.0,148.0 1323.0,146.3 1325.0,144.6 1327.0,142.9 1329.0,141.2 1331.0,139.6 1333.0,138.0 1335.0,136.6 1337.0,135.3 1339.0,134.0 1341.0,132.7 1343.0,131.7 1345.0,130.8 1347.0,130.0 1349.0,129.3 1351.0,128.6 1353.0,128.1 1355.0,127.7 1357.0,127.4 1359.0,127.2 1361.0,126.9 1363.0,126.8 1365.0,126.7 1367.0,126.8 1369.0,127.0 1371.0,127.4 1373.0,127.9 1375.0,128.7 1377.0,129.9 1379.0,131.5 1381.0,133.2 1383.0,134.8 1385.0,136.6 1387.0,138.4 1389.0,140.2 1391.0,141.8 1393.0,143.3 1395.0,144.7 1397.0,146.0 1399.0,147.0 1401.0,147.9 1403.0,148.6 1405.0,149.2"/><g shape-rendering="crispEdges"><rect x="3" y="168" width="10" height="2" fill="#000"/><rect x="25" y="168" width="10" height="2" fill="#000"/><rect x="47" y="168" width="10" height="2" fill="#000"/><rect x="69" y="168" width="10" height="2" fill="#000"/><rect x="91" y="168" width="10" height="2" fill="#000"/><rect x="113" y="168" width="10" height="2" fill="#000"/><rect x="135" y="168" width="10" height="2" fill="#000"/><rect x="157" y="168" width="10" height="2" fill="#000"/><rect x="179" y="168" width="10" height="2" fill="#000"/><rect x="201" y="168" width="10" height="2" fill="#000"/><rect x="223" y="168" width="10" height="2" fill="#000"/><rect x="245" y="168" width="10" height="2" fill="#000"/><rect x="267" y="168" width="10" height="2" fill="#000"/><rect x="289" y="168" width="10" height="2" fill="#000"/><rect x="311" y="168" width="10" height="2" fill="#000"/><rect x="333" y="168" width="10" height="2" fill="#000"/><rect x="355" y="168" width="10" height="2" fill="#000"/><rect x="377" y="168" width="10" height="2" fill="#000"/><rect x="399" y="168" width="10" height="2" fill="#000"/><rect x="421" y="168" width="10" height="2" fill="#000"/><rect x="443" y="168" width="10" height="2" fill="#000"/><rect x="465" y="168" width="10" height="2" fill="#000"/><rect x="487" y="168" width="10" height="2" fill="#000"/><rect x="509" y="168" width="10" height="2" fill="#000"/><rect x="531" y="168" width="10" height="2" fill="#000"/><rect x="553" y="168" width="10" height="2" fill="#000"/><rect x="575" y="168" width="10" height="2" fill="#000"/><rect x="597" y="168" width="10" height="2" fill="#000"/><rect x="619" y="168" width="10" height="2" fill="#000"/><rect x="641" y="168" width="10" height="2" fill="#000"/><rect x="663" y="168" width="10" height="2" fill="#000"/><rect x="685" y="168" width="10" height="2" fill="#000"/><rect x="707" y="168" width="10" height="2" fill="#000"/><rect x="729" y="168" width="10" height="2" fill="#000"/><rect x="751" y="168" width="10" height="2" fill="#000"/><rect x="773" y="168" width="10" height="2" fill="#000"/><rect x="795" y="168" width="10" height="2" fill="#000"/><rect x="817" y="168" width="10" height="2" fill="#000"/><rect x="839" y="168" width="10" height="2" fill="#000"/><rect x="861" y="168" width="10" height="2" fill="#000"/><rect x="883" y="168" width="10" height="2" fill="#000"/><rect x="905" y="168" width="10" height="2" fill="#000"/><rect x="927" y="168" width="10" height="2" fill="#000"/><rect x="949" y="168" width="10" height="2" fill="#000"/><rect x="971" y="168" width="10" height="2" fill="#000"/><rect x="993" y="168" width="10" height="2" fill="#000"/><rect x="1015" y="168" width="10" height="2" fill="#000"/><rect x="1037" y="168" width="10" height="2" fill="#000"/><rect x="1059" y="168" width="10" height="2" fill="#000"/><rect x="1081" y="168" width="10" height="2" fill="#000"/><rect x="1103" y="168" width="10" height="2" fill="#000"/><rect x="1125" y="168" width="10" height="2" fill="#000"/><rect x="1147" y="168" width="10" height="2" fill="#000"/><rect x="1169" y="168" width="10" height="2" fill="#000"/><rect x="1191" y="168" width="10" height="2" fill="#000"/><rect x="1213" y="168" width="10" height="2" fill="#000"/><rect x="1235" y="168" width="10" height="2" fill="#000"/><rect x="1257" y="168" width="10" height="2" fill="#000"/><rect x="1279" y="168" width="10" height="2" fill="#000"/><rect x="1301" y="168" width="10" height="2" fill="#000"/><rect x="1323" y="168" width="10" height="2" fill="#000"/><rect x="1345" y="168" width="10" height="2" fill="#000"/><rect x="1367" y="168" width="10" height="2" fill="#000"/><rect x="1389" y="168" width="10" height="2" fill="#000"/><rect x="1411" y="168" width="10" height="2" fill="#000"/><rect x="1433" y="168" width="10" height="2" fill="#000"/><rect x="1455" y="168" width="10" height="2" fill="#000"/><rect x="1477" y="168" width="7" height="2" fill="#000"/><rect x="3" y="364" width="10" height="2" fill="#000"/><rect x="25" y="364" width="10" height="2" fill="#000"/><rect x="47" y="364" width="10" height="2" fill="#000"/><rect x="69" y="364" width="10" height="2" fill="#000"/><rect x="91" y="364" width="10" height="2" fill="#000"/><rect x="113" y="364" width="10" height="2" fill="#000"/><rect x="135" y="364" width="10" height="2" fill="#000"/><rect x="157" y="364" width="10" height="2" fill="#000"/><rect x="179" y="364" width="10" height="2" fill="#000"/><rect x="201" y="364" width="10" height="2" fill="#000"/><rect x="223" y="364" width="10" height="2" fill="#000"/><rect x="245" y="364" width="10" height="2" fill="#000"/><rect x="267" y="364" width="10" height="2" fill="#000"/><rect x="289" y="364" width="10" height="2" fill="#000"/><rect x="311" y="364" width="10" height="2" fill="#000"/><rect x="333" y="364" width="10" height="2" fill="#000"/><rect x="355" y="364" width="10" height="2" fill="#000"/><rect x="377" y="364" width="10" height="2" fill="#000"/><rect x="399" y="364" width="10" height="2" fill="#000"/><rect x="421" y="364" width="10" height="2" fill="#000"/><rect x="443" y="364" width="10" height="2" fill="#000"/><rect x="465" y="364" width="10" height="2" fill="#000"/><rect x="487" y="364" width="10" height="2" fill="#000"/><rect x="509" y="364" width="10" height="2" fill="#000"/><rect x="531" y="364" width="10" height="2" fill="#000"/><rect x="553" y="364" width="10" height="2" fill="#000"/><rect x="575" y="364" width="10" height="2" fill="#000"/><rect x="597" y="364" width="10" height="2" fill="#000"/><rect x="619" y="364" width="10" height="2" fill="#000"/><rect x="641" y="364" width="10" height="2" fill="#000"/><rect x="663" y="364" width="10" height="2" fill="#000"/><rect x="685" y="364" width="10" height="2" fill="#000"/><rect x="707" y="364" width="10" height="2" fill="#000"/><rect x="729" y="364" width="10" height="2" fill="#000"/><rect x="751" y="364" width="10" height="2" fill="#000"/><rect x="773" y="364" width="10" height="2" fill="#000"/><rect x="795" y="364" width="10" height="2" fill="#000"/><rect x="817" y="364" width="10" height="2" fill="#000"/><rect x="839" y="364" width="10" height="2" fill="#000"/><rect x="861" y="364" width="10" height="2" fill="#000"/><rect x="883" y="364" width="10" height="2" fill="#000"/><rect x="905" y="364" width="10" height="2" fill="#000"/><rect x="927" y="364" width="10" height="2" fill="#000"/><rect x="949" y="364" width="10" height="2" fill="#000"/><rect x="971" y="364" width="10" height="2" fill="#000"/><rect x="993" y="364" width="10" height="2" fill="#000"/><rect x="1015" y="364" width="10" height="2" fill="#000"/><rect x="1037" y="364" width="10" height="2" fill="#000"/><rect x="1059" y="364" width="10" height="2" fill="#000"/><rect x="1081" y="364" width="10" height="2" fill="#000"/><rect x="1103" y="364" width="10" height="2" fill="#000"/><rect x="1125" y="364" width="10" height="2" fill="#000"/><rect x="1147" y="364" width="10" height="2" fill="#000"/><rect x="1169" y="364" width="10" height="2" fill="#000"/><rect x="1191" y="364" width="10" height="2" fill="#000"/><rect x="1213" y="364" width="10" height="2" fill="#000"/><rect x="1235" y="364" width="10" height="2" fill="#000"/><rect x="1257" y="364" width="10" height="2" fill="#000"/><rect x="1279" y="364" width="10" height="2" fill="#000"/><rect x="1301" y="364" width="10" height="2" fill="#000"/><rect x="1323" y="364" width="10" height="2" fill="#000"/><rect x="1345" y="364" width="10" height="2" fill="#000"/><rect x="1367" y="364" width="10" height="2" fill="#000"/><rect x="1389" y="364" width="10" height="2" fill="#000"/><rect x="1411" y="364" width="10" height="2" fill="#000"/><rect x="1433" y="364" width="10" height="2" fill="#000"/><rect x="1455" y="364" width="10" height="2" fill="#000"/><rect x="1477" y="364" width="7" height="2" fill="#000"/><rect x="3" y="564" width="10" height="2" fill="#000"/><rect x="25" y="564" width="10" height="2" fill="#000"/><rect x="47" y="564" width="10" height="2" fill="#000"/><rect x="69" y="564" width="10" height="2" fill="#000"/><rect x="91" y="564" width="10" height="2" fill="#000"/><rect x="113" y="564" width="10" height="2" fill="#000"/><rect x="135" y="564" width="10" height="2" fill="#000"/><rect x="157" y="564" width="10" height="2" fill="#000"/><rect x="179" y="564" width="10" height="2" fill="#000"/><rect x="201" y="564" width="10" height="2" fill="#000"/><rect x="223" y="564" width="10" height="2" fill="#000"/><rect x="245" y="564" width="10" height="2" fill="#000"/><rect x="267" y="564" width="10" height="2" fill="#000"/><rect x="289" y="564" width="10" height="2" fill="#000"/><rect x="311" y="564" width="10" height="2" fill="#000"/><rect x="333" y="564" width="10" height="2" fill="#000"/><rect x="355" y="564" width="10" height="2" fill="#000"/><rect x="377" y="564" width="10" height="2" fill="#000"/><rect x="399" y="564" width="10" height="2" fill="#000"/><rect x="421" y="564" width="10" height="2" fill="#000"/><rect x="443" y="564" width="10" height="2" fill="#000"/><rect x="465" y="564" width="10" height="2" fill="#000"/><rect x="487" y="564" width="10" height="2" fill="#000"/><rect x="509" y="564" width="10" height="2" fill="#000"/><rect x="531" y="564" width="10" height="2" fill="#000"/><rect x="553" y="564" width="10" height="2" fill="#000"/><rect x="575" y="564" width="10" height="2" fill="#000"/><rect x="597" y="564" width="10" height="2" fill="#000"/><rect x="619" y="564" width="10" height="2" fill="#000"/><rect x="641" y="564" width="10" height="2" fill="#000"/><rect x="663" y="564" width="10" height="2" fill="#000"/><rect x="685" y="564" width="10" height="2" fill="#000"/><rect x="707" y="564" width="10" height="2" fill="#000"/><rect x="729" y="564" width="10" height="2" fill="#000"/><rect x="751" y="564" width="10" height="2" fill="#000"/><rect x="773" y="564" width="10" height="2" fill="#000"/><rect x="795" y="564" width="10" height="2" fill="#000"/><rect x="817" y="564" width="10" height="2" fill="#000"/><rect x="839" y="564" width="10" height="2" fill="#000"/><rect x="861" y="564" width="10" height="2" fill="#000"/><rect x="883" y="564" width="10" height="2" fill="#000"/><rect x="905" y="564" width="10" height="2" fill="#000"/><rect x="927" y="564" width="10" height="2" fill="#000"/><rect x="949" y="564" width="10" height="2" fill="#000"/><rect x="971" y="564" width="10" height="2" fill="#000"/><rect x="993" y="564" width="10" height="2" fill="#000"/><rect x="1015" y="564" width="10" height="2" fill="#000"/><rect x="1037" y="564" width="10" height="2" fill="#000"/><rect x="1059" y="564" width="10" height="2" fill="#000"/><rect x="1081" y="564" width="10" height="2" fill="#000"/><rect x="1103" y="564" width="10" height="2" fill="#000"/><rect x="1125" y="564" width="10" height="2" fill="#000"/><rect x="1147" y="564" width="10" height="2" fill="#000"/><rect x="1169" y="564" width="10" height="2" fill="#000"/><rect x="1191" y="564" width="10" height="2" fill="#000"/><rect x="1213" y="564" width="10" height="2" fill="#000"/><rect x="1235" y="564" width="10" height="2" fill="#000"/><rect x="1257" y="564" width="10" height="2" fill="#000"/><rect x="1279" y="564" width="10" height="2" fill="#000"/><rect x="1301" y="564" width="10" height="2" fill="#000"/><rect x="1323" y="564" width="10" height="2" fill="#000"/><rect x="1345" y="564" width="10" height="2" fill="#000"/><rect x="1367" y="564" width="10" height="2" fill="#000"/><rect x="1389" y="564" width="10" height="2" fill="#000"/><rect x="1411" y="564" width="10" height="2" fill="#000"/><rect x="1433" y="564" width="10" height="2" fill="#000"/><rect x="1455" y="564" width="10" height="2" fill="#000"/><rect x="1477" y="564" width="7" height="2" fill="#000"/><rect x="3" y="629" width="10" height="2" fill="#000"/><rect x="25" y="629" width="10" height="2" fill="#000"/><rect x="47" y="629" width="10" height="2" fill="#000"/><rect x="69" y="629" width="10" height="2" fill="#000"/><rect x="91" y="629" width="10" height="2" fill="#000"/><rect x="113" y="629" width="10" height="2" fill="#000"/><rect x="135" y="629" width="10" height="2" fill="#000"/><rect x="157" y="629" width="10" height="2" fill="#000"/><rect x="179" y="629" width="10" height="2" fill="#000"/><rect x="201" y="629" width="10" height="2" fill="#000"/><rect x="223" y="629" width="10" height="2" fill="#000"/><rect x="245" y="629" width="10" height="2" fill="#000"/><rect x="267" y="629" width="10" height="2" fill="#000"/><rect x="289" y="629" width="10" height="2" fill="#000"/><rect x="311" y="629" width="10" height="2" fill="#000"/><rect x="333" y="629" width="10" height="2" fill="#000"/><rect x="355" y="629" width="10" height="2" fill="#000"/><rect x="377" y="629" width="10" height="2" fill="#000"/><rect x="399" y="629" width="10" height="2" fill="#000"/><rect x="421" y="629" width="10" height="2" fill="#000"/><rect x="443" y="629" width="10" height="2" fill="#000"/><rect x="465" y="629" width="10" height="2" fill="#000"/><rect x="487" y="629" width="10" height="2" fill="#000"/><rect x="509" y="629" width="10" height="2" fill="#000"/><rect x="531" y="629" width="10" height="2" fill="#000"/><rect x="553" y="629" width="10" height="2" fill="#000"/><rect x="575" y="629" width="10" height="2" fill="#000"/><rect x="597" y="629" width="10" height="2" fill="#000"/><rect x="619" y="629" width="10" height="2" fill="#000"/><rect x="641" y="629" width="10" height="2" fill="#000"/><rect x="663" y="629" width="10" height="2" fill="#000"/><rect x="685" y="629" width="10" height="2" fill="#000"/><rect x="707" y="629" width="10" height="2" fill="#000"/><rect x="729" y="629" width="10" height="2" fill="#000"/><rect x="751" y="629" width="10" height="2" fill="#000"/><rect x="773" y="629" width="10" height="2" fill="#000"/><rect x="795" y="629" width="10" height="2" fill="#000"/><rect x="817" y="629" width="10" height="2" fill="#000"/><rect x="839" y="629" width="10" height="2" fill="#000"/><rect x="861" y="629" width="10" height="2" fill="#000"/><rect x="883" y="629" width="10" height="2" fill="#000"/><rect x="905" y="629" width="10" height="2" fill="#000"/><rect x="927" y="629" width="10" height="2" fill="#000"/><rect x="949" y="629" width="10" height="2" fill="#000"/><rect x="971" y="629" width="10" height="2" fill="#000"/><rect x="993" y="629" width="10" height="2" fill="#000"/><rect x="1015" y="629" width="10" height="2" fill="#000"/><rect x="1037" y="629" width="10" height="2" fill="#000"/><rect x="1059" y="629" width="10" height="2" fill="#000"/><rect x="1081" y="629" width="10" height="2" fill="#000"/><rect x="1103" y="629" width="10" height="2" fill="#000"/><rect x="1125" y="629" width="10" height="2" fill="#000"/><rect x="1147" y="629" width="10" height="2" fill="#000"/><rect x="1169" y="629" width="10" height="2" fill="#000"/><rect x="1191" y="629" width="10" height="2" fill="#000"/><rect x="1213" y="629" width="10" height="2" fill="#000"/><rect x="1235" y="629" width="10" height="2" fill="#000"/><rect x="1257" y="629" width="10" height="2" fill="#000"/><rect x="1279" y="629" width="10" height="2" fill="#000"/><rect x="1301" y="629" width="10" height="2" fill="#000"/><rect x="1323" y="629" width="10" height="2" fill="#000"/><rect x="1345" y="629" width="10" height="2" fill="#000"/><rect x="1367" y="629" width="10" height="2" fill="#000"/><rect x="1389" y="629" width="10" height="2" fill="#000"/><rect x="1411" y="629" width="10" height="2" fill="#000"/><rect x="1433" y="629" width="10" height="2" fill="#000"/><rect x="1455" y="629" width="10" height="2" fill="#000"/><rect x="1477" y="629" width="7" height="2" fill="#000"/></g><g shape-rendering="crispEdges"><rect x="5" y="593" width="1" height="37" fill="#6b6b6b"/><rect x="3" y="604" width="5" height="11" fill="#611409"/><rect x="4" y="605" width="3" height="9" fill="#e15849"/><rect x="12" y="598" width="1" height="29" fill="#6b6b6b"/><rect x="10" y="613" width="5" height="3" fill="#611409"/><rect x="11" y="614" width="3" height="1" fill="#e15849"/><rect x="20" y="582" width="1" height="41" fill="#6b6b6b"/><rect x="18" y="584" width="5" height="32" fill="#1a5230"/><rect x="19" y="585" width="3" height="30" fill="#4db053"/><rect x="27" y="562" width="1" height="23" fill="#6b6b6b"/><rect x="25" y="570" width="5" height="15" fill="#1a5230"/><rect x="26" y="571" width="3" height="13" fill="#4db053"/><rect x="35" y="565" width="1" height="16" fill="#6b6b6b"/><rect x="33" y="571" width="5" height="1" fill="#611409"/><rect x="43" y="557" width="1" height="16" fill="#6b6b6b"/><rect x="41" y="563" width="5" height="10" fill="#1a5230"/><rect x="42" y="564" width="3" height="8" fill="#4db053"/><rect x="50" y="551" width="1" height="24" fill="#6b6b6b"/><rect x="48" y="562" width="5" height="11" fill="#611409"/><rect x="49" y="563" width="3" height="9" fill="#e15849"/><rect x="58" y="522" width="1" height="51" fill="#6b6b6b"/><rect x="56" y="527" width="5" height="46" fill="#1a5230"/><rect x="57" y="528" width="3" height="44" fill="#4db053"/><rect x="65" y="525" width="1" height="13" fill="#6b6b6b"/><rect x="63" y="527" width="5" height="7" fill="#611409"/><rect x="64" y="528" width="3" height="5" fill="#e15849"/><rect x="73" y="512" width="1" height="32" fill="#6b6b6b"/><rect x="71" y="523" width="5" height="10" fill="#1a5230"/><rect x="72" y="524" width="3" height="8" fill="#4db053"/><rect x="80" y="495" width="1" height="33" fill="#6b6b6b"/><rect x="78" y="520" width="5" height="5" fill="#1a5230"/><rect x="79" y="521" width="3" height="3" fill="#4db053"/><rect x="88" y="508" width="1" height="22" fill="#6b6b6b"/><rect x="86" y="511" width="5" height="10" fill="#1a5230"/><rect x="87" y="512" width="3" height="8" fill="#4db053"/><rect x="95" y="477" width="1" height="41" fill="#6b6b6b"/><rect x="93" y="495" width="5" height="17" fill="#1a5230"/><rect x="94" y="496" width="3" height="15" fill="#4db053"/><rect x="103" y="494" width="1" height="23" fill="#6b6b6b"/><rect x="101" y="494" width="5" height="23" fill="#611409"/><rect x="102" y="495" width="3" height="21" fill="#e15849"/><rect x="111" y="502" width="1" height="27" fill="#6b6b6b"/><rect x="109" y="516" width="5" height="1" fill="#611409"/><rect x="118" y="511" width="1" height="24" fill="#6b6b6b"/><rect x="116" y="517" width="5" height="4" fill="#611409"/><rect x="117" y="518" width="3" height="2" fill="#e15849"/><rect x="126" y="505" width="1" height="35" fill="#6b6b6b"/><rect x="124" y="521" width="5" height="4" fill="#611409"/><rect x="125" y="522" width="3" height="2" fill="#e15849"/><rect x="133" y="506" width="1" height="23" fill="#6b6b6b"/><rect x="131" y="508" width="5" height="16" fill="#1a5230"/><rect x="132" y="509" width="3" height="14" fill="#4db053"/><rect x="141" y="482" width="1" height="29" fill="#6b6b6b"/><rect x="139" y="498" width="5" height="10" fill="#1a5230"/><rect x="140" y="499" width="3" height="8" fill="#4db053"/><rect x="148" y="496" width="1" height="29" fill="#6b6b6b"/><rect x="146" y="498" width="5" height="23" fill="#611409"/><rect x="147" y="499" width="3" height="21" fill="#e15849"/><rect x="156" y="512" width="1" height="23" fill="#6b6b6b"/><rect x="154" y="516" width="5" height="5" fill="#1a5230"/><rect x="155" y="517" width="3" height="3" fill="#4db053"/><rect x="164" y="506" width="1" height="24" fill="#6b6b6b"/><rect x="162" y="517" width="5" height="9" fill="#611409"/><rect x="163" y="518" width="3" height="7" fill="#e15849"/><rect x="171" y="497" width="1" height="36" fill="#6b6b6b"/><rect x="169" y="502" width="5" height="23" fill="#1a5230"/><rect x="170" y="503" width="3" height="21" fill="#4db053"/><rect x="179" y="500" width="1" height="13" fill="#6b6b6b"/><rect x="177" y="502" width="5" height="11" fill="#611409"/><rect x="178" y="503" width="3" height="9" fill="#e15849"/><rect x="186" y="509" width="1" height="32" fill="#6b6b6b"/><rect x="184" y="511" width="5" height="21" fill="#611409"/><rect x="185" y="512" width="3" height="19" fill="#e15849"/><rect x="194" y="520" width="1" height="27" fill="#6b6b6b"/><rect x="192" y="532" width="5" height="5" fill="#611409"/><rect x="193" y="533" width="3" height="3" fill="#e15849"/><rect x="201" y="513" width="1" height="31" fill="#6b6b6b"/><rect x="199" y="531" width="5" height="6" fill="#1a5230"/><rect x="200" y="532" width="3" height="4" fill="#4db053"/><rect x="209" y="526" width="1" height="27" fill="#6b6b6b"/><rect x="207" y="531" width="5" height="20" fill="#611409"/><rect x="208" y="532" width="3" height="18" fill="#e15849"/><rect x="217" y="545" width="1" height="24" fill="#6b6b6b"/><rect x="215" y="548" width="5" height="4" fill="#1a5230"/><rect x="216" y="549" width="3" height="2" fill="#4db053"/><rect x="224" y="503" width="1" height="46" fill="#6b6b6b"/><rect x="222" y="509" width="5" height="40" fill="#1a5230"/><rect x="223" y="510" width="3" height="38" fill="#4db053"/><rect x="232" y="481" width="1" height="29" fill="#6b6b6b"/><rect x="230" y="490" width="5" height="19" fill="#1a5230"/><rect x="231" y="491" width="3" height="17" fill="#4db053"/><rect x="239" y="458" width="1" height="41" fill="#6b6b6b"/><rect x="237" y="476" width="5" height="16" fill="#1a5230"/><rect x="238" y="477" width="3" height="14" fill="#4db053"/><rect x="247" y="455" width="1" height="23" fill="#6b6b6b"/><rect x="245" y="476" width="5" height="2" fill="#611409"/><rect x="254" y="471" width="1" height="29" fill="#6b6b6b"/><rect x="252" y="476" width="5" height="16" fill="#611409"/><rect x="253" y="477" width="3" height="14" fill="#e15849"/><rect x="262" y="461" width="1" height="32" fill="#6b6b6b"/><rect x="260" y="476" width="5" height="17" fill="#1a5230"/><rect x="261" y="477" width="3" height="15" fill="#4db053"/><rect x="270" y="465" width="1" height="20" fill="#6b6b6b"/><rect x="268" y="475" width="5" height="7" fill="#611409"/><rect x="269" y="476" width="3" height="5" fill="#e15849"/><rect x="277" y="470" width="1" height="12" fill="#6b6b6b"/><rect x="275" y="471" width="5" height="11" fill="#1a5230"/><rect x="276" y="472" width="3" height="9" fill="#4db053"/><rect x="285" y="445" width="1" height="38" fill="#6b6b6b"/><rect x="283" y="446" width="5" height="26" fill="#1a5230"/><rect x="284" y="447" width="3" height="24" fill="#4db053"/><rect x="292" y="418" width="1" height="30" fill="#6b6b6b"/><rect x="290" y="430" width="5" height="17" fill="#1a5230"/><rect x="291" y="431" width="3" height="15" fill="#4db053"/><rect x="300" y="410" width="1" height="24" fill="#6b6b6b"/><rect x="298" y="411" width="5" height="20" fill="#1a5230"/><rect x="299" y="412" width="3" height="18" fill="#4db053"/><rect x="307" y="398" width="1" height="21" fill="#6b6b6b"/><rect x="305" y="411" width="5" height="1" fill="#611409"/><rect x="315" y="397" width="1" height="18" fill="#6b6b6b"/><rect x="313" y="398" width="5" height="14" fill="#1a5230"/><rect x="314" y="399" width="3" height="12" fill="#4db053"/><rect x="322" y="385" width="1" height="22" fill="#6b6b6b"/><rect x="320" y="387" width="5" height="12" fill="#1a5230"/><rect x="321" y="388" width="3" height="10" fill="#4db053"/><rect x="330" y="365" width="1" height="75" fill="#6b6b6b"/><rect x="328" y="387" width="5" height="52" fill="#611409"/><rect x="329" y="388" width="3" height="50" fill="#e15849"/><rect x="338" y="430" width="1" height="33" fill="#6b6b6b"/><rect x="336" y="437" width="5" height="18" fill="#611409"/><rect x="337" y="438" width="3" height="16" fill="#e15849"/><rect x="345" y="444" width="1" height="24" fill="#6b6b6b"/><rect x="343" y="454" width="5" height="14" fill="#611409"/><rect x="344" y="455" width="3" height="12" fill="#e15849"/><rect x="353" y="461" width="1" height="22" fill="#6b6b6b"/><rect x="351" y="468" width="5" height="5" fill="#611409"/><rect x="352" y="469" width="3" height="3" fill="#e15849"/><rect x="360" y="467" width="1" height="48" fill="#6b6b6b"/><rect x="358" y="472" width="5" height="42" fill="#611409"/><rect x="359" y="473" width="3" height="40" fill="#e15849"/><rect x="368" y="507" width="1" height="19" fill="#6b6b6b"/><rect x="366" y="513" width="5" height="10" fill="#611409"/><rect x="367" y="514" width="3" height="8" fill="#e15849"/><rect x="375" y="505" width="1" height="23" fill="#6b6b6b"/><rect x="373" y="522" width="5" height="5" fill="#611409"/><rect x="374" y="523" width="3" height="3" fill="#e15849"/><rect x="383" y="472" width="1" height="65" fill="#6b6b6b"/><rect x="381" y="472" width="5" height="54" fill="#1a5230"/><rect x="382" y="473" width="3" height="52" fill="#4db053"/><rect x="391" y="451" width="1" height="23" fill="#6b6b6b"/><rect x="389" y="454" width="5" height="19" fill="#1a5230"/><rect x="390" y="455" width="3" height="17" fill="#4db053"/><rect x="398" y="447" width="1" height="27" fill="#6b6b6b"/><rect x="396" y="453" width="5" height="17" fill="#611409"/><rect x="397" y="454" width="3" height="15" fill="#e15849"/><rect x="406" y="459" width="1" height="20" fill="#6b6b6b"/><rect x="404" y="469" width="5" height="5" fill="#611409"/><rect x="405" y="470" width="3" height="3" fill="#e15849"/><rect x="413" y="453" width="1" height="21" fill="#6b6b6b"/><rect x="411" y="460" width="5" height="14" fill="#1a5230"/><rect x="412" y="461" width="3" height="12" fill="#4db053"/><rect x="421" y="440" width="1" height="24" fill="#6b6b6b"/><rect x="419" y="455" width="5" height="6" fill="#1a5230"/><rect x="420" y="456" width="3" height="4" fill="#4db053"/><rect x="428" y="437" width="1" height="20" fill="#6b6b6b"/><rect x="426" y="442" width="5" height="15" fill="#1a5230"/><rect x="427" y="443" width="3" height="13" fill="#4db053"/><rect x="436" y="431" width="1" height="26" fill="#6b6b6b"/><rect x="434" y="442" width="5" height="12" fill="#611409"/><rect x="435" y="443" width="3" height="10" fill="#e15849"/><rect x="444" y="452" width="1" height="1" fill="#6b6b6b"/><rect x="442" y="452" width="5" height="1" fill="#611409"/><rect x="451" y="441" width="1" height="17" fill="#6b6b6b"/><rect x="449" y="451" width="5" height="4" fill="#1a5230"/><rect x="450" y="452" width="3" height="2" fill="#4db053"/><rect x="459" y="439" width="1" height="25" fill="#6b6b6b"/><rect x="457" y="449" width="5" height="3" fill="#1a5230"/><rect x="458" y="450" width="3" height="1" fill="#4db053"/><rect x="466" y="437" width="1" height="27" fill="#6b6b6b"/><rect x="464" y="449" width="5" height="15" fill="#611409"/><rect x="465" y="450" width="3" height="13" fill="#e15849"/><rect x="474" y="463" width="1" height="22" fill="#6b6b6b"/><rect x="472" y="464" width="5" height="10" fill="#611409"/><rect x="473" y="465" width="3" height="8" fill="#e15849"/><rect x="481" y="473" width="1" height="1" fill="#6b6b6b"/><rect x="479" y="473" width="5" height="1" fill="#611409"/><rect x="489" y="457" width="1" height="24" fill="#6b6b6b"/><rect x="487" y="473" width="5" height="8" fill="#611409"/><rect x="488" y="474" width="3" height="6" fill="#e15849"/><rect x="497" y="476" width="1" height="44" fill="#6b6b6b"/><rect x="495" y="480" width="5" height="34" fill="#611409"/><rect x="496" y="481" width="3" height="32" fill="#e15849"/><rect x="504" y="509" width="1" height="19" fill="#6b6b6b"/><rect x="502" y="513" width="5" height="1" fill="#1a5230"/><rect x="512" y="487" width="1" height="36" fill="#6b6b6b"/><rect x="510" y="503" width="5" height="10" fill="#1a5230"/><rect x="511" y="504" width="3" height="8" fill="#4db053"/><rect x="519" y="502" width="1" height="18" fill="#6b6b6b"/><rect x="517" y="503" width="5" height="6" fill="#611409"/><rect x="518" y="504" width="3" height="4" fill="#e15849"/><rect x="527" y="494" width="1" height="23" fill="#6b6b6b"/><rect x="525" y="508" width="5" height="7" fill="#611409"/><rect x="526" y="509" width="3" height="5" fill="#e15849"/><rect x="534" y="507" width="1" height="17" fill="#6b6b6b"/><rect x="532" y="514" width="5" height="5" fill="#611409"/><rect x="533" y="515" width="3" height="3" fill="#e15849"/><rect x="542" y="503" width="1" height="35" fill="#6b6b6b"/><rect x="540" y="519" width="5" height="8" fill="#611409"/><rect x="541" y="520" width="3" height="6" fill="#e15849"/><rect x="549" y="486" width="1" height="41" fill="#6b6b6b"/><rect x="547" y="503" width="5" height="24" fill="#1a5230"/><rect x="548" y="504" width="3" height="22" fill="#4db053"/><rect x="557" y="496" width="1" height="10" fill="#6b6b6b"/><rect x="555" y="502" width="5" height="1" fill="#1a5230"/><rect x="565" y="501" width="1" height="18" fill="#6b6b6b"/><rect x="563" y="502" width="5" height="16" fill="#611409"/><rect x="564" y="503" width="3" height="14" fill="#e15849"/><rect x="572" y="515" width="1" height="22" fill="#6b6b6b"/><rect x="570" y="517" width="5" height="19" fill="#611409"/><rect x="571" y="518" width="3" height="17" fill="#e15849"/><rect x="580" y="525" width="1" height="16" fill="#6b6b6b"/><rect x="578" y="526" width="5" height="10" fill="#1a5230"/><rect x="579" y="527" width="3" height="8" fill="#4db053"/><rect x="587" y="520" width="1" height="19" fill="#6b6b6b"/><rect x="585" y="527" width="5" height="6" fill="#611409"/><rect x="586" y="528" width="3" height="4" fill="#e15849"/><rect x="595" y="530" width="1" height="36" fill="#6b6b6b"/><rect x="593" y="532" width="5" height="28" fill="#611409"/><rect x="594" y="533" width="3" height="26" fill="#e15849"/><rect x="602" y="540" width="1" height="20" fill="#6b6b6b"/><rect x="600" y="541" width="5" height="18" fill="#1a5230"/><rect x="601" y="542" width="3" height="16" fill="#4db053"/><rect x="610" y="514" width="1" height="31" fill="#6b6b6b"/><rect x="608" y="530" width="5" height="12" fill="#1a5230"/><rect x="609" y="531" width="3" height="10" fill="#4db053"/><rect x="618" y="511" width="1" height="20" fill="#6b6b6b"/><rect x="616" y="518" width="5" height="13" fill="#1a5230"/><rect x="617" y="519" width="3" height="11" fill="#4db053"/><rect x="625" y="513" width="1" height="14" fill="#6b6b6b"/><rect x="623" y="517" width="5" height="7" fill="#611409"/><rect x="624" y="518" width="3" height="5" fill="#e15849"/><rect x="633" y="501" width="1" height="23" fill="#6b6b6b"/><rect x="631" y="503" width="5" height="21" fill="#1a5230"/><rect x="632" y="504" width="3" height="19" fill="#4db053"/><rect x="640" y="497" width="1" height="18" fill="#6b6b6b"/><rect x="638" y="503" width="5" height="2" fill="#611409"/><rect x="648" y="496" width="1" height="27" fill="#6b6b6b"/><rect x="646" y="505" width="5" height="12" fill="#611409"/><rect x="647" y="506" width="3" height="10" fill="#e15849"/><rect x="655" y="500" width="1" height="37" fill="#6b6b6b"/><rect x="653" y="504" width="5" height="14" fill="#1a5230"/><rect x="654" y="505" width="3" height="12" fill="#4db053"/><rect x="663" y="500" width="1" height="42" fill="#6b6b6b"/><rect x="661" y="504" width="5" height="25" fill="#611409"/><rect x="662" y="505" width="3" height="23" fill="#e15849"/><rect x="671" y="526" width="1" height="24" fill="#6b6b6b"/><rect x="669" y="528" width="5" height="19" fill="#611409"/><rect x="670" y="529" width="3" height="17" fill="#e15849"/><rect x="678" y="538" width="1" height="11" fill="#6b6b6b"/><rect x="676" y="542" width="5" height="5" fill="#1a5230"/><rect x="677" y="543" width="3" height="3" fill="#4db053"/><rect x="686" y="540" width="1" height="14" fill="#6b6b6b"/><rect x="684" y="542" width="5" height="12" fill="#611409"/><rect x="685" y="543" width="3" height="10" fill="#e15849"/><rect x="693" y="531" width="1" height="24" fill="#6b6b6b"/><rect x="691" y="535" width="5" height="19" fill="#1a5230"/><rect x="692" y="536" width="3" height="17" fill="#4db053"/><rect x="701" y="527" width="1" height="17" fill="#6b6b6b"/><rect x="699" y="533" width="5" height="2" fill="#1a5230"/><rect x="708" y="509" width="1" height="27" fill="#6b6b6b"/><rect x="706" y="530" width="5" height="3" fill="#1a5230"/><rect x="707" y="531" width="3" height="1" fill="#4db053"/><rect x="716" y="515" width="1" height="48" fill="#6b6b6b"/><rect x="714" y="529" width="5" height="29" fill="#611409"/><rect x="715" y="530" width="3" height="27" fill="#e15849"/><rect x="724" y="540" width="1" height="26" fill="#6b6b6b"/><rect x="722" y="545" width="5" height="15" fill="#1a5230"/><rect x="723" y="546" width="3" height="13" fill="#4db053"/><rect x="731" y="510" width="1" height="36" fill="#6b6b6b"/><rect x="729" y="517" width="5" height="29" fill="#1a5230"/><rect x="730" y="518" width="3" height="27" fill="#4db053"/><rect x="739" y="487" width="1" height="35" fill="#6b6b6b"/><rect x="737" y="492" width="5" height="25" fill="#1a5230"/><rect x="738" y="493" width="3" height="23" fill="#4db053"/><rect x="746" y="490" width="1" height="25" fill="#6b6b6b"/><rect x="744" y="492" width="5" height="22" fill="#611409"/><rect x="745" y="493" width="3" height="20" fill="#e15849"/><rect x="754" y="503" width="1" height="13" fill="#6b6b6b"/><rect x="752" y="515" width="5" height="1" fill="#1a5230"/><rect x="761" y="503" width="1" height="21" fill="#6b6b6b"/><rect x="759" y="513" width="5" height="6" fill="#611409"/><rect x="760" y="514" width="3" height="4" fill="#e15849"/><rect x="769" y="504" width="1" height="23" fill="#6b6b6b"/><rect x="767" y="519" width="5" height="8" fill="#611409"/><rect x="768" y="520" width="3" height="6" fill="#e15849"/><rect x="777" y="512" width="1" height="22" fill="#6b6b6b"/><rect x="775" y="515" width="5" height="13" fill="#1a5230"/><rect x="776" y="516" width="3" height="11" fill="#4db053"/><rect x="784" y="515" width="1" height="25" fill="#6b6b6b"/><rect x="782" y="515" width="5" height="23" fill="#611409"/><rect x="783" y="516" width="3" height="21" fill="#e15849"/><rect x="792" y="527" width="1" height="15" fill="#6b6b6b"/><rect x="790" y="537" width="5" height="5" fill="#611409"/><rect x="791" y="538" width="3" height="3" fill="#e15849"/><rect x="799" y="537" width="1" height="12" fill="#6b6b6b"/><rect x="797" y="540" width="5" height="1" fill="#611409"/><rect x="807" y="523" width="1" height="24" fill="#6b6b6b"/><rect x="805" y="530" width="5" height="11" fill="#1a5230"/><rect x="806" y="531" width="3" height="9" fill="#4db053"/><rect x="814" y="500" width="1" height="37" fill="#6b6b6b"/><rect x="812" y="506" width="5" height="25" fill="#1a5230"/><rect x="813" y="507" width="3" height="23" fill="#4db053"/><rect x="822" y="465" width="1" height="46" fill="#6b6b6b"/><rect x="820" y="468" width="5" height="39" fill="#1a5230"/><rect x="821" y="469" width="3" height="37" fill="#4db053"/><rect x="829" y="451" width="1" height="29" fill="#6b6b6b"/><rect x="827" y="468" width="5" height="12" fill="#611409"/><rect x="828" y="469" width="3" height="10" fill="#e15849"/><rect x="837" y="447" width="1" height="36" fill="#6b6b6b"/><rect x="835" y="454" width="5" height="26" fill="#1a5230"/><rect x="836" y="455" width="3" height="24" fill="#4db053"/><rect x="845" y="437" width="1" height="24" fill="#6b6b6b"/><rect x="843" y="446" width="5" height="9" fill="#1a5230"/><rect x="844" y="447" width="3" height="7" fill="#4db053"/><rect x="852" y="430" width="1" height="23" fill="#6b6b6b"/><rect x="850" y="446" width="5" height="1" fill="#611409"/><rect x="860" y="436" width="1" height="13" fill="#6b6b6b"/><rect x="858" y="439" width="5" height="9" fill="#1a5230"/><rect x="859" y="440" width="3" height="7" fill="#4db053"/><rect x="867" y="428" width="1" height="33" fill="#6b6b6b"/><rect x="865" y="439" width="5" height="19" fill="#611409"/><rect x="866" y="440" width="3" height="17" fill="#e15849"/><rect x="875" y="410" width="1" height="48" fill="#6b6b6b"/><rect x="873" y="411" width="5" height="46" fill="#1a5230"/><rect x="874" y="412" width="3" height="44" fill="#4db053"/><rect x="882" y="404" width="1" height="20" fill="#6b6b6b"/><rect x="880" y="412" width="5" height="10" fill="#611409"/><rect x="881" y="413" width="3" height="8" fill="#e15849"/><rect x="890" y="389" width="1" height="34" fill="#6b6b6b"/><rect x="888" y="403" width="5" height="20" fill="#1a5230"/><rect x="889" y="404" width="3" height="18" fill="#4db053"/><rect x="898" y="395" width="1" height="19" fill="#6b6b6b"/><rect x="896" y="402" width="5" height="9" fill="#611409"/><rect x="897" y="403" width="3" height="7" fill="#e15849"/><rect x="905" y="404" width="1" height="21" fill="#6b6b6b"/><rect x="903" y="410" width="5" height="8" fill="#611409"/><rect x="904" y="411" width="3" height="6" fill="#e15849"/><rect x="913" y="379" width="1" height="45" fill="#6b6b6b"/><rect x="911" y="383" width="5" height="35" fill="#1a5230"/><rect x="912" y="384" width="3" height="33" fill="#4db053"/><rect x="920" y="373" width="1" height="56" fill="#6b6b6b"/><rect x="918" y="382" width="5" height="46" fill="#611409"/><rect x="919" y="383" width="3" height="44" fill="#e15849"/><rect x="928" y="414" width="1" height="27" fill="#6b6b6b"/><rect x="926" y="425" width="5" height="5" fill="#611409"/><rect x="927" y="426" width="3" height="3" fill="#e15849"/><rect x="935" y="417" width="1" height="16" fill="#6b6b6b"/><rect x="933" y="429" width="5" height="1" fill="#611409"/><rect x="943" y="417" width="1" height="26" fill="#6b6b6b"/><rect x="941" y="428" width="5" height="13" fill="#611409"/><rect x="942" y="429" width="3" height="11" fill="#e15849"/><rect x="951" y="429" width="1" height="16" fill="#6b6b6b"/><rect x="949" y="431" width="5" height="10" fill="#1a5230"/><rect x="950" y="432" width="3" height="8" fill="#4db053"/><rect x="958" y="411" width="1" height="31" fill="#6b6b6b"/><rect x="956" y="414" width="5" height="19" fill="#1a5230"/><rect x="957" y="415" width="3" height="17" fill="#4db053"/><rect x="966" y="413" width="1" height="1" fill="#6b6b6b"/><rect x="964" y="413" width="5" height="1" fill="#1a5230"/><rect x="973" y="392" width="1" height="32" fill="#6b6b6b"/><rect x="971" y="407" width="5" height="8" fill="#1a5230"/><rect x="972" y="408" width="3" height="6" fill="#4db053"/><rect x="981" y="353" width="1" height="55" fill="#6b6b6b"/><rect x="979" y="355" width="5" height="53" fill="#1a5230"/><rect x="980" y="356" width="3" height="51" fill="#4db053"/><rect x="988" y="301" width="1" height="56" fill="#6b6b6b"/><rect x="986" y="302" width="5" height="55" fill="#1a5230"/><rect x="987" y="303" width="3" height="53" fill="#4db053"/><rect x="996" y="294" width="1" height="33" fill="#6b6b6b"/><rect x="994" y="301" width="5" height="16" fill="#611409"/><rect x="995" y="302" width="3" height="14" fill="#e15849"/><rect x="1004" y="286" width="1" height="60" fill="#6b6b6b"/><rect x="1002" y="287" width="5" height="28" fill="#1a5230"/><rect x="1003" y="288" width="3" height="26" fill="#4db053"/><rect x="1011" y="256" width="1" height="61" fill="#6b6b6b"/><rect x="1009" y="269" width="5" height="19" fill="#1a5230"/><rect x="1010" y="270" width="3" height="17" fill="#4db053"/><rect x="1019" y="244" width="1" height="35" fill="#6b6b6b"/><rect x="1017" y="254" width="5" height="17" fill="#1a5230"/><rect x="1018" y="255" width="3" height="15" fill="#4db053"/><rect x="1026" y="234" width="1" height="49" fill="#6b6b6b"/><rect x="1024" y="254" width="5" height="12" fill="#611409"/><rect x="1025" y="255" width="3" height="10" fill="#e15849"/><rect x="1034" y="235" width="1" height="37" fill="#6b6b6b"/><rect x="1032" y="239" width="5" height="26" fill="#1a5230"/><rect x="1033" y="240" width="3" height="24" fill="#4db053"/><rect x="1041" y="169" width="1" height="100" fill="#6b6b6b"/><rect x="1039" y="238" width="5" height="31" fill="#611409"/><rect x="1040" y="239" width="3" height="29" fill="#e15849"/><rect x="1049" y="215" width="1" height="65" fill="#6b6b6b"/><rect x="1047" y="217" width="5" height="50" fill="#1a5230"/><rect x="1048" y="218" width="3" height="48" fill="#4db053"/><rect x="1056" y="209" width="1" height="53" fill="#6b6b6b"/><rect x="1054" y="217" width="5" height="41" fill="#611409"/><rect x="1055" y="218" width="3" height="39" fill="#e15849"/><rect x="1064" y="220" width="1" height="36" fill="#6b6b6b"/><rect x="1062" y="250" width="5" height="6" fill="#1a5230"/><rect x="1063" y="251" width="3" height="4" fill="#4db053"/><rect x="1072" y="227" width="1" height="26" fill="#6b6b6b"/><rect x="1070" y="249" width="5" height="3" fill="#1a5230"/><rect x="1071" y="250" width="3" height="1" fill="#4db053"/><rect x="1079" y="213" width="1" height="43" fill="#6b6b6b"/><rect x="1077" y="226" width="5" height="24" fill="#1a5230"/><rect x="1078" y="227" width="3" height="22" fill="#4db053"/><rect x="1087" y="224" width="1" height="80" fill="#6b6b6b"/><rect x="1085" y="226" width="5" height="76" fill="#611409"/><rect x="1086" y="227" width="3" height="74" fill="#e15849"/><rect x="1094" y="292" width="1" height="35" fill="#6b6b6b"/><rect x="1092" y="296" width="5" height="8" fill="#1a5230"/><rect x="1093" y="297" width="3" height="6" fill="#4db053"/><rect x="1102" y="286" width="1" height="22" fill="#6b6b6b"/><rect x="1100" y="296" width="5" height="9" fill="#611409"/><rect x="1101" y="297" width="3" height="7" fill="#e15849"/><rect x="1109" y="282" width="1" height="29" fill="#6b6b6b"/><rect x="1107" y="289" width="5" height="15" fill="#1a5230"/><rect x="1108" y="290" width="3" height="13" fill="#4db053"/><rect x="1117" y="274" width="1" height="32" fill="#6b6b6b"/><rect x="1115" y="289" width="5" height="12" fill="#611409"/><rect x="1116" y="290" width="3" height="10" fill="#e15849"/><rect x="1125" y="289" width="1" height="24" fill="#6b6b6b"/><rect x="1123" y="301" width="5" height="4" fill="#611409"/><rect x="1124" y="302" width="3" height="2" fill="#e15849"/><rect x="1132" y="303" width="1" height="45" fill="#6b6b6b"/><rect x="1130" y="304" width="5" height="44" fill="#611409"/><rect x="1131" y="305" width="3" height="42" fill="#e15849"/><rect x="1140" y="312" width="1" height="36" fill="#6b6b6b"/><rect x="1138" y="329" width="5" height="19" fill="#1a5230"/><rect x="1139" y="330" width="3" height="17" fill="#4db053"/><rect x="1147" y="320" width="1" height="40" fill="#6b6b6b"/><rect x="1145" y="328" width="5" height="1" fill="#1a5230"/><rect x="1155" y="317" width="1" height="38" fill="#6b6b6b"/><rect x="1153" y="327" width="5" height="7" fill="#611409"/><rect x="1154" y="328" width="3" height="5" fill="#e15849"/><rect x="1162" y="286" width="1" height="53" fill="#6b6b6b"/><rect x="1160" y="289" width="5" height="45" fill="#1a5230"/><rect x="1161" y="290" width="3" height="43" fill="#4db053"/><rect x="1170" y="284" width="1" height="18" fill="#6b6b6b"/><rect x="1168" y="289" width="5" height="11" fill="#611409"/><rect x="1169" y="290" width="3" height="9" fill="#e15849"/><rect x="1178" y="286" width="1" height="24" fill="#6b6b6b"/><rect x="1176" y="294" width="5" height="6" fill="#1a5230"/><rect x="1177" y="295" width="3" height="4" fill="#4db053"/><rect x="1185" y="243" width="1" height="53" fill="#6b6b6b"/><rect x="1183" y="244" width="5" height="51" fill="#1a5230"/><rect x="1184" y="245" width="3" height="49" fill="#4db053"/><rect x="1193" y="222" width="1" height="36" fill="#6b6b6b"/><rect x="1191" y="245" width="5" height="9" fill="#611409"/><rect x="1192" y="246" width="3" height="7" fill="#e15849"/><rect x="1200" y="241" width="1" height="20" fill="#6b6b6b"/><rect x="1198" y="250" width="5" height="3" fill="#1a5230"/><rect x="1199" y="251" width="3" height="1" fill="#4db053"/><rect x="1208" y="223" width="1" height="32" fill="#6b6b6b"/><rect x="1206" y="229" width="5" height="23" fill="#1a5230"/><rect x="1207" y="230" width="3" height="21" fill="#4db053"/><rect x="1215" y="173" width="1" height="65" fill="#6b6b6b"/><rect x="1213" y="178" width="5" height="53" fill="#1a5230"/><rect x="1214" y="179" width="3" height="51" fill="#4db053"/><rect x="1223" y="167" width="1" height="26" fill="#6b6b6b"/><rect x="1221" y="177" width="5" height="5" fill="#611409"/><rect x="1222" y="178" width="3" height="3" fill="#e15849"/><rect x="1231" y="79" width="1" height="107" fill="#6b6b6b"/><rect x="1229" y="84" width="5" height="98" fill="#1a5230"/><rect x="1230" y="85" width="3" height="96" fill="#4db053"/><rect x="1238" y="32" width="1" height="79" fill="#6b6b6b"/><rect x="1236" y="68" width="5" height="18" fill="#1a5230"/><rect x="1237" y="69" width="3" height="16" fill="#4db053"/><rect x="1246" y="33" width="1" height="71" fill="#6b6b6b"/><rect x="1244" y="60" width="5" height="9" fill="#1a5230"/><rect x="1245" y="61" width="3" height="7" fill="#4db053"/><rect x="1253" y="48" width="1" height="73" fill="#6b6b6b"/><rect x="1251" y="60" width="5" height="61" fill="#611409"/><rect x="1252" y="61" width="3" height="59" fill="#e15849"/><rect x="1261" y="110" width="1" height="46" fill="#6b6b6b"/><rect x="1259" y="121" width="5" height="33" fill="#611409"/><rect x="1260" y="122" width="3" height="31" fill="#e15849"/><rect x="1268" y="128" width="1" height="29" fill="#6b6b6b"/><rect x="1266" y="142" width="5" height="12" fill="#1a5230"/><rect x="1267" y="143" width="3" height="10" fill="#4db053"/><rect x="1276" y="66" width="1" height="76" fill="#6b6b6b"/><rect x="1274" y="76" width="5" height="66" fill="#1a5230"/><rect x="1275" y="77" width="3" height="64" fill="#4db053"/><rect x="1283" y="46" width="1" height="50" fill="#6b6b6b"/><rect x="1281" y="55" width="5" height="24" fill="#1a5230"/><rect x="1282" y="56" width="3" height="22" fill="#4db053"/><rect x="1291" y="43" width="1" height="35" fill="#6b6b6b"/><rect x="1289" y="55" width="5" height="6" fill="#611409"/><rect x="1290" y="56" width="3" height="4" fill="#e15849"/><rect x="1299" y="54" width="1" height="54" fill="#6b6b6b"/><rect x="1297" y="61" width="5" height="40" fill="#611409"/><rect x="1298" y="62" width="3" height="38" fill="#e15849"/><rect x="1306" y="70" width="1" height="79" fill="#6b6b6b"/><rect x="1304" y="101" width="5" height="40" fill="#611409"/><rect x="1305" y="102" width="3" height="38" fill="#e15849"/><rect x="1314" y="119" width="1" height="51" fill="#6b6b6b"/><rect x="1312" y="121" width="5" height="19" fill="#1a5230"/><rect x="1313" y="122" width="3" height="17" fill="#4db053"/><rect x="1321" y="115" width="1" height="75" fill="#6b6b6b"/><rect x="1319" y="124" width="5" height="62" fill="#611409"/><rect x="1320" y="125" width="3" height="60" fill="#e15849"/><rect x="1329" y="157" width="1" height="33" fill="#6b6b6b"/><rect x="1327" y="158" width="5" height="29" fill="#1a5230"/><rect x="1328" y="159" width="3" height="27" fill="#4db053"/><rect x="1336" y="92" width="1" height="68" fill="#6b6b6b"/><rect x="1334" y="94" width="5" height="66" fill="#1a5230"/><rect x="1335" y="95" width="3" height="64" fill="#4db053"/><rect x="1344" y="81" width="1" height="122" fill="#6b6b6b"/><rect x="1342" y="94" width="5" height="109" fill="#611409"/><rect x="1343" y="95" width="3" height="107" fill="#e15849"/><rect x="1352" y="169" width="1" height="33" fill="#6b6b6b"/><rect x="1350" y="172" width="5" height="30" fill="#1a5230"/><rect x="1351" y="173" width="3" height="28" fill="#4db053"/><rect x="1359" y="166" width="1" height="42" fill="#6b6b6b"/><rect x="1357" y="173" width="5" height="25" fill="#611409"/><rect x="1358" y="174" width="3" height="23" fill="#e15849"/><rect x="1367" y="146" width="1" height="54" fill="#6b6b6b"/><rect x="1365" y="175" width="5" height="23" fill="#1a5230"/><rect x="1366" y="176" width="3" height="21" fill="#4db053"/><rect x="1374" y="172" width="1" height="55" fill="#6b6b6b"/><rect x="1372" y="173" width="5" height="40" fill="#611409"/><rect x="1373" y="174" width="3" height="38" fill="#e15849"/><rect x="1382" y="181" width="1" height="37" fill="#6b6b6b"/><rect x="1380" y="182" width="5" height="31" fill="#1a5230"/><rect x="1381" y="183" width="3" height="29" fill="#4db053"/><rect x="1389" y="181" width="1" height="27" fill="#6b6b6b"/><rect x="1387" y="182" width="5" height="6" fill="#611409"/><rect x="1388" y="183" width="3" height="4" fill="#e15849"/><rect x="1397" y="176" width="1" height="37" fill="#6b6b6b"/><rect x="1395" y="183" width="5" height="6" fill="#1a5230"/><rect x="1396" y="184" width="3" height="4" fill="#4db053"/><rect x="1405" y="182" width="1" height="10" fill="#6b6b6b"/><rect x="1403" y="182" width="5" height="4" fill="#1a5230"/><rect x="1404" y="183" width="3" height="2" fill="#4db053"/></g><line x1="3" y1="182.5" x2="1484" y2="182.5" stroke="#43a847" stroke-width="1" stroke-dasharray="1 2" shape-rendering="crispEdges"/><polyline fill="none" stroke="#b92727" stroke-width="1.15" points="3,692.1 4.5,692.1 11.5,691.7 19.5,691.1 26.5,691.9 34.5,693.1 42.5,694.5 49.5,694.5 57.5,692.5 64.5,694.1 72.5,693.7 79.5,693.3 87.5,694.1 94.5,692.7 102.5,693.1 110.5,693.5 117.5,694.1 125.5,693.5 132.5,693.5 140.5,693.3 147.5,693.3 155.5,694.1 163.5,694.5 170.5,693.5 178.5,695.5 185.5,695.1 193.5,694.7 200.5,694.7 208.5,694.7 216.5,695.1 223.5,693.1 231.5,692.7 238.5,691.9 246.5,692.7 253.5,692.5 261.5,692.7 269.5,693.7 276.5,695.1 284.5,694.3 291.5,693.5 299.5,694.1 306.5,695.1 314.5,696.1 321.5,696.5 329.5,691.7 337.5,691.3 344.5,691.9 352.5,692.5 359.5,690.7 367.5,691.7 374.5,692.3 382.5,689.3 390.5,689.9 397.5,690.5 405.5,691.5 412.5,692.3 420.5,692.9 427.5,693.7 435.5,694.3 443.5,696.7 450.5,697.7 458.5,697.9 465.5,697.7 473.5,698.1 480.5,700.9 488.5,701.1 496.5,698.5 503.5,699.1 511.5,697.9 518.5,698.5 526.5,698.7 533.5,699.7 541.5,698.5 548.5,696.9 556.5,698.3 564.5,699.1 571.5,699.7 579.5,700.5 586.5,701.1 594.5,699.5 601.5,700.3 609.5,699.5 617.5,700.1 624.5,701.1 632.5,701.5 639.5,702.1 647.5,701.5 654.5,699.7 662.5,697.5 670.5,697.7 677.5,699.5 685.5,700.9 692.5,700.9 700.5,701.5 707.5,700.9 715.5,698.1 723.5,697.7 730.5,696.7 738.5,695.9 745.5,696.3 753.5,697.5 760.5,697.9 768.5,698.5 776.5,698.7 783.5,698.7 791.5,700.1 798.5,701.7 806.5,701.5 813.5,699.5 821.5,697.1 828.5,696.5 836.5,695.7 844.5,695.9 851.5,696.5 859.5,697.5 866.5,696.7 874.5,694.7 881.5,695.3 889.5,694.7 897.5,695.7 904.5,696.5 912.5,694.5 919.5,691.5 927.5,691.9 934.5,693.1 942.5,693.5 950.5,694.5 957.5,694.5 965.5,697.1 972.5,696.5 980.5,693.9 987.5,691.3 995.5,690.7 1003.5,688.1 1010.5,685.7 1018.5,685.7 1025.5,684.7 1033.5,684.5 1040.5,680.1 1048.5,678.2 1055.5,677.4 1063.5,677.8 1071.5,679.0 1078.5,678.6 1086.5,676.2 1093.5,676.6 1101.5,678.0 1108.5,679.0 1116.5,679.8 1124.5,680.9 1131.5,680.5 1139.5,680.7 1146.5,680.7 1154.5,680.7 1161.5,679.8 1169.5,681.3 1177.5,682.5 1184.5,681.3 1192.5,681.7 1199.5,683.1 1207.5,683.5 1214.5,681.3 1222.5,682.5 1230.5,677.4 1237.5,674.8 1245.5,673.4 1252.5,672.0 1260.5,672.2 1267.5,673.4 1275.5,671.8 1282.5,671.6 1290.5,672.6 1298.5,672.2 1305.5,670.6 1313.5,670.2 1320.5,669.2 1328.5,670.2 1335.5,669.0 1343.5,666.0 1351.5,667.0 1358.5,667.8 1366.5,668.0 1373.5,668.0 1381.5,668.8 1388.5,670.2 1396.5,671.4 1404.5,673.6"/><polyline fill="none" stroke="#2f66ff" stroke-width="1.1" points="3,796.4 4.5,795.1 11.5,788.5 19.5,778.6 26.5,771.2 34.5,768.6 42.5,765.6 49.5,765.2 57.5,758.6 64.5,755.8 72.5,753.2 79.5,749.6 87.5,749.6 94.5,743.2 102.5,746.6 110.5,748.8 117.5,751.2 125.5,751.8 132.5,749.2 140.5,745.8 147.5,751.2 155.5,754.2 163.5,754.8 170.5,750.8 178.5,749.6 185.5,764.2 193.5,773.2 200.5,772.8 208.5,786.9 216.5,793.9 223.5,759.2 231.5,737.6 238.5,729.1 246.5,728.1 253.5,742.6 261.5,739.6 269.5,742.6 276.5,743.6 284.5,740.2 291.5,733.8 299.5,733.6 306.5,735.2 314.5,736.6 321.5,737.4 329.5,745.2 337.5,754.4 344.5,758.6 352.5,762.8 359.5,771.6 367.5,779.8 374.5,780.5 382.5,770.6 390.5,760.2 397.5,762.2 405.5,764.6 412.5,761.8 420.5,759.2 427.5,756.8 435.5,757.6 443.5,759.2 450.5,757.6 458.5,756.6 465.5,757.0 473.5,764.6 480.5,763.0 488.5,762.4 496.5,778.2 503.5,781.5 511.5,775.2 518.5,778.4 526.5,778.6 533.5,780.7 541.5,779.6 548.5,770.6 556.5,768.6 564.5,771.4 571.5,776.2 579.5,775.6 586.5,774.8 594.5,782.7 601.5,780.7 609.5,771.2 617.5,764.6 624.5,764.6 632.5,753.8 639.5,748.6 647.5,753.4 654.5,755.6 662.5,763.8 670.5,777.8 677.5,777.8 685.5,779.6 692.5,771.2 700.5,765.8 707.5,757.2 715.5,774.4 723.5,776.4 730.5,754.8 738.5,739.2 745.5,745.6 753.5,749.6 760.5,753.2 768.5,755.6 776.5,757.4 783.5,764.4 791.5,767.6 798.5,771.2 806.5,763.4 813.5,747.2 821.5,728.7 828.5,727.5 836.5,728.7 844.5,729.5 851.5,733.8 859.5,738.0 866.5,743.0 874.5,739.6 881.5,739.8 889.5,739.8 897.5,742.6 904.5,746.4 912.5,743.2 919.5,747.8 927.5,752.8 934.5,753.2 942.5,755.8 950.5,757.8 957.5,753.6 965.5,749.8 972.5,747.6 980.5,729.1 987.5,710.7 995.5,719.7 1003.5,728.1 1010.5,729.7 1018.5,732.2 1025.5,737.6 1033.5,739.4 1040.5,741.0 1048.5,744.2 1055.5,746.2 1063.5,747.6 1071.5,748.6 1078.5,748.0 1086.5,754.8 1093.5,760.4 1101.5,760.8 1108.5,761.2 1116.5,763.2 1124.5,768.4 1131.5,780.7 1139.5,779.2 1146.5,780.1 1154.5,778.4 1161.5,767.8 1169.5,764.6 1177.5,764.6 1184.5,752.6 1192.5,746.6 1199.5,748.2 1207.5,743.6 1214.5,733.0 1222.5,732.2 1230.5,723.3 1237.5,724.9 1245.5,730.6 1252.5,740.0 1260.5,747.6 1267.5,749.2 1275.5,745.6 1282.5,744.0 1290.5,745.0 1298.5,749.6 1305.5,754.2 1313.5,757.4 1320.5,762.4 1328.5,764.6 1335.5,756.6 1343.5,766.2 1351.5,772.6 1358.5,776.2 1366.5,773.6 1373.5,780.7 1381.5,776.2 1388.5,774.2 1396.5,772.6 1404.5,770.6"/><g shape-rendering="crispEdges"><rect x="1484" y="0" width="1" height="828" fill="#4a4a4a"/><rect x="3" y="800" width="1541" height="1" fill="#4a4a4a"/><rect x="3" y="663" width="1541" height="1" fill="#e0e3eb"/><rect x="3" y="705" width="1541" height="1" fill="#e0e3eb"/><rect x="0" y="0" width="3" height="829" fill="#e0e3eb"/><rect x="1544" y="0" width="3" height="829" fill="#e0e3eb"/><rect x="0" y="828" width="1547" height="1" fill="#e0e3eb"/></g><text x="1491.9" y="63" font-size="12" fill="#555555" font-weight="normal" text-anchor="start" textLength="35.9" lengthAdjust="spacingAndGlyphs">32.000</text><text x="1491.9" y="113" font-size="12" fill="#555555" font-weight="normal" text-anchor="start" textLength="35.9" lengthAdjust="spacingAndGlyphs">31.000</text><text x="1491.9" y="164" font-size="12" fill="#555555" font-weight="normal" text-anchor="start" textLength="35.9" lengthAdjust="spacingAndGlyphs">30.000</text><text x="1491.9" y="214" font-size="12" fill="#555555" font-weight="normal" text-anchor="start" textLength="35.9" lengthAdjust="spacingAndGlyphs">29.000</text><text x="1491.9" y="264" font-size="12" fill="#555555" font-weight="normal" text-anchor="start" textLength="35.9" lengthAdjust="spacingAndGlyphs">28.000</text><text x="1491.9" y="315" font-size="12" fill="#555555" font-weight="normal" text-anchor="start" textLength="35.9" lengthAdjust="spacingAndGlyphs">27.000</text><text x="1491.9" y="365" font-size="12" fill="#555555" font-weight="normal" text-anchor="start" textLength="35.9" lengthAdjust="spacingAndGlyphs">26.000</text><text x="1491.9" y="416" font-size="12" fill="#555555" font-weight="normal" text-anchor="start" textLength="35.9" lengthAdjust="spacingAndGlyphs">25.000</text><text x="1491.9" y="466" font-size="12" fill="#555555" font-weight="normal" text-anchor="start" textLength="35.9" lengthAdjust="spacingAndGlyphs">24.000</text><text x="1491.9" y="517" font-size="12" fill="#555555" font-weight="normal" text-anchor="start" textLength="35.9" lengthAdjust="spacingAndGlyphs">23.000</text><text x="1491.9" y="567" font-size="12" fill="#555555" font-weight="normal" text-anchor="start" textLength="35.9" lengthAdjust="spacingAndGlyphs">22.000</text><text x="1491.9" y="618" font-size="12" fill="#555555" font-weight="normal" text-anchor="start" textLength="35.9" lengthAdjust="spacingAndGlyphs">21.000</text><text x="1492.8" y="675.85" font-size="12" fill="#555555" font-weight="normal" text-anchor="start" textLength="28.7" lengthAdjust="spacingAndGlyphs">1.000</text><text x="1491.9" y="733.85" font-size="12" fill="#555555" font-weight="normal" text-anchor="start" textLength="35.9" lengthAdjust="spacingAndGlyphs">200.00</text><text x="1492" y="764.5" font-size="12" fill="#555555" font-weight="normal" text-anchor="start" textLength="22.2" lengthAdjust="spacingAndGlyphs">0.00</text><text x="1492.7" y="794.8" font-size="12" fill="#555555" font-weight="normal" text-anchor="start" textLength="41.3" lengthAdjust="spacingAndGlyphs">−200.00</text><path d="M1484 161h47a2 2 0 0 1 2 2v13a2 2 0 0 1 -2 2h-47z" fill="#000"/><text x="1492" y="174.1" font-size="12" fill="#fff" font-weight="bold" text-anchor="start" textLength="35.7" lengthAdjust="spacingAndGlyphs">29.798</text><path d="M1484 357h47a2 2 0 0 1 2 2v13a2 2 0 0 1 -2 2h-47z" fill="#000"/><text x="1492" y="370.1" font-size="12" fill="#fff" font-weight="bold" text-anchor="start" textLength="35.7" lengthAdjust="spacingAndGlyphs">25.927</text><path d="M1484 557h47a2 2 0 0 1 2 2v13a2 2 0 0 1 -2 2h-47z" fill="#000"/><text x="1492" y="570.1" font-size="12" fill="#fff" font-weight="bold" text-anchor="start" textLength="35.7" lengthAdjust="spacingAndGlyphs">21.949</text><path d="M1484 622h47a2 2 0 0 1 2 2v13a2 2 0 0 1 -2 2h-47z" fill="#000"/><text x="1492" y="635.1" font-size="12" fill="#fff" font-weight="bold" text-anchor="start" textLength="35.7" lengthAdjust="spacingAndGlyphs">20.659</text><text x="67.7" y="818" font-size="12" fill="#505050" font-weight="normal" text-anchor="start" textLength="11.6" lengthAdjust="spacingAndGlyphs">17</text><text x="146.6" y="818" font-size="12" fill="#505050" font-weight="normal" text-anchor="start" textLength="19.9" lengthAdjust="spacingAndGlyphs">Nov</text><text x="233.7" y="818" font-size="12" fill="#505050" font-weight="normal" text-anchor="start" textLength="11.6" lengthAdjust="spacingAndGlyphs">16</text><text x="313.0" y="818" font-size="12" fill="#505050" font-weight="normal" text-anchor="start" textLength="19.2" lengthAdjust="spacingAndGlyphs">Dec</text><text x="468.0" y="818" font-size="12" fill="#505050" font-weight="bold" text-anchor="start" textLength="27" lengthAdjust="spacingAndGlyphs">2024</text><text x="559.7" y="818" font-size="12" fill="#505050" font-weight="normal" text-anchor="start" textLength="11.6" lengthAdjust="spacingAndGlyphs">16</text><text x="646.0" y="818" font-size="12" fill="#505050" font-weight="normal" text-anchor="start" textLength="18.9" lengthAdjust="spacingAndGlyphs">Feb</text><text x="805.0" y="818" font-size="12" fill="#505050" font-weight="normal" text-anchor="start" textLength="19" lengthAdjust="spacingAndGlyphs">Mar</text><text x="964.5" y="818" font-size="12" fill="#505050" font-weight="normal" text-anchor="start" textLength="18" lengthAdjust="spacingAndGlyphs">Apr</text><text x="1050.7" y="818" font-size="12" fill="#505050" font-weight="normal" text-anchor="start" textLength="11.6" lengthAdjust="spacingAndGlyphs">16</text><text x="1130.0" y="818" font-size="12" fill="#505050" font-weight="normal" text-anchor="start" textLength="21.1" lengthAdjust="spacingAndGlyphs">May</text><text x="1217.7" y="818" font-size="12" fill="#505050" font-weight="normal" text-anchor="start" textLength="11.6" lengthAdjust="spacingAndGlyphs">16</text><text x="1305.5" y="818" font-size="12" fill="#505050" font-weight="normal" text-anchor="start" textLength="18" lengthAdjust="spacingAndGlyphs">Jun</text><text x="1458.0" y="818" font-size="12" fill="#505050" font-weight="normal" text-anchor="start" textLength="14.9" lengthAdjust="spacingAndGlyphs">Jul</text><rect x="8" y="8" width="312" height="18" fill="#fff"/><rect x="331" y="9.8" width="315" height="11.4" fill="#fff"/><rect x="8" y="63.8" width="541" height="16.2" fill="#fff"/><rect x="8" y="674" width="115" height="15.4" fill="#fff"/><rect x="8" y="714.7" width="156" height="15.4" fill="#fff"/><circle cx="21.05" cy="14.85" r="8.95" fill="#acabba"/><path d="M19.2 10.9h3.7l1.3 3.2h-6.4z M16 14.85h3.3l1.4 2.6h0.6l1.3 -2.6h3.3l2.05 3.3h-14z" fill="#fff"/><text x="34.3" y="21.3" font-size="15" fill="#4a4a4a" font-weight="normal" text-anchor="start" textLength="33.1" lengthAdjust="spacingAndGlyphs">CFDs</text><text x="73.0" y="21.3" font-size="15" fill="#4a4a4a" font-weight="normal" text-anchor="start" textLength="19.0" lengthAdjust="spacingAndGlyphs">on</text><text x="95.5" y="21.3" font-size="15" fill="#4a4a4a" font-weight="normal" text-anchor="start" textLength="39.2" lengthAdjust="spacingAndGlyphs">Silver</text><text x="140.9" y="21.3" font-size="15" fill="#4a4a4a" font-weight="normal" text-anchor="start" textLength="31.2" lengthAdjust="spacingAndGlyphs">(US$</text><text x="190.6" y="21.3" font-size="15" fill="#4a4a4a" font-weight="normal" text-anchor="start" textLength="25.0" lengthAdjust="spacingAndGlyphs">OZ)</text><text x="228.2" y="21.3" font-size="15" fill="#4a4a4a" font-weight="normal" text-anchor="start" textLength="17.4" lengthAdjust="spacingAndGlyphs">1D</text><text x="260.2" y="21.3" font-size="15" fill="#4a4a4a" font-weight="normal" text-anchor="start" textLength="25.2" lengthAdjust="spacingAndGlyphs">TVC</text><line x1="179.4" y1="23.2" x2="184.5" y2="9.9" stroke="#4a4a4a" stroke-width="1.25"/><rect x="219.9" y="14.9" width="2.2" height="2.2" fill="#4a4a4a"/><rect x="250.9" y="14.9" width="2.2" height="2.2" fill="#4a4a4a"/><circle cx="309.7" cy="15" r="9" fill="#d4eee8"/><circle cx="309.7" cy="15" r="3.9" fill="#089981"/><text x="335" y="20.3" font-size="13" textLength="48.3" lengthAdjust="spacingAndGlyphs"><tspan fill="#4a4a4a">O</tspan><tspan fill="#1f6a4c">29.496</tspan></text><text x="390.5" y="20.3" font-size="13" textLength="46.6" lengthAdjust="spacingAndGlyphs"><tspan fill="#4a4a4a">H</tspan><tspan fill="#1f6a4c">29.551</tspan></text><text x="445" y="20.3" font-size="13" textLength="44.7" lengthAdjust="spacingAndGlyphs"><tspan fill="#4a4a4a">L</tspan><tspan fill="#1f6a4c">29.350</tspan></text><text x="496.9" y="20.3" font-size="13" textLength="46.6" lengthAdjust="spacingAndGlyphs"><tspan fill="#4a4a4a">C</tspan><tspan fill="#1f6a4c">29.540</tspan></text><text x="551.2" y="20.3" font-size="13" fill="#1f6a4c" font-weight="normal" text-anchor="start" textLength="37.3" lengthAdjust="spacingAndGlyphs">+0.019</text><text x="593.8" y="20.3" font-size="13" fill="#1f6a4c" font-weight="normal" text-anchor="start" textLength="48.5" lengthAdjust="spacingAndGlyphs">(+0.06%)</text><rect x="11.5" y="31.5" width="53" height="23" rx="4" fill="#fff" stroke="#f23645" stroke-width="1.3"/><rect x="96.5" y="31.5" width="53" height="23" rx="4" fill="#fff" stroke="#2962ff" stroke-width="1.3"/><text x="18.9" y="47.8" font-size="12.5" fill="#f23645" font-weight="normal" text-anchor="start" textLength="31.8" lengthAdjust="spacingAndGlyphs">29.54</text><text x="51.7" y="45.75" font-size="11" fill="#f23645" font-weight="normal" text-anchor="start" textLength="4.8" lengthAdjust="spacingAndGlyphs">0</text><text x="73.2" y="47" font-size="10.5" fill="#333" font-weight="normal" text-anchor="start" textLength="14.9" lengthAdjust="spacingAndGlyphs">2.3</text><text x="104.9" y="47.8" font-size="12.5" fill="#2962ff" font-weight="normal" text-anchor="start" textLength="31" lengthAdjust="spacingAndGlyphs">29.56</text><text x="137.2" y="45.75" font-size="11" fill="#2962ff" font-weight="normal" text-anchor="start" textLength="4.8" lengthAdjust="spacingAndGlyphs">2</text><text x="12.2" y="75.8" font-size="12" fill="#4a4a4a" font-weight="normal" text-anchor="start" textLength="382.6" lengthAdjust="spacingAndGlyphs">MA Ribbon SMA close 20 SMA close 50 SMA close 100 SMA close 200</text><text x="403.9" y="74.8" font-size="12" fill="#f23645" font-weight="normal" text-anchor="start" textLength="38.1" lengthAdjust="spacingAndGlyphs">30.204</text><text x="448.7" y="74.8" font-size="12" fill="#2962ff" font-weight="normal" text-anchor="start" textLength="38.4" lengthAdjust="spacingAndGlyphs">29.047</text><ellipse cx="497.1" cy="70.9" rx="3.1" ry="3.6" fill="none" stroke="#50535a" stroke-width="1.1"/><line x1="494.2" y1="75.6" x2="499.8" y2="66.3" stroke="#50535a" stroke-width="0.9"/><text x="507.5" y="74.8" font-size="12" fill="#111" font-weight="normal" text-anchor="start" textLength="37.8" lengthAdjust="spacingAndGlyphs">24.872</text><rect x="12.5" y="85.5" width="28" height="20" rx="3.5" fill="#fff" stroke="#c9cbdb"/><path d="M22.4 97.7l4.1 -4.1l4.1 4.1" fill="none" stroke="#131722" stroke-width="1.5"/><text x="12.4" y="685" font-size="12" fill="#4a4a4a" font-weight="normal" text-anchor="start" textLength="66" lengthAdjust="spacingAndGlyphs">ATR 14 RMA</text><text x="87.8" y="685" font-size="12" fill="#b92727" font-weight="normal" text-anchor="start" textLength="31.3" lengthAdjust="spacingAndGlyphs">0.943</text><text x="12.4" y="727.3" font-size="12" fill="#4a4a4a" font-weight="normal" text-anchor="start" textLength="101" lengthAdjust="spacingAndGlyphs">CCI 20 hlc3 SMA 5</text><text x="122.4" y="727.3" font-size="12" fill="#2962ff" font-weight="normal" text-anchor="start" textLength="38" lengthAdjust="spacingAndGlyphs">−66.32</text><rect x="1488.5" y="3.5" width="51" height="25" rx="4" fill="#fff" stroke="#e0e3eb"/><text x="1492.4" y="20" font-size="12" fill="#131722" font-weight="normal" text-anchor="start" textLength="20" lengthAdjust="spacingAndGlyphs">USD</text><path d="M1530.2 15.2l2.6 2.6l2.6 -2.6" fill="none" stroke="#131722" stroke-width="1.3"/><rect x="13" y="769" width="35" height="18" fill="#fff" opacity="0.85"/><path d="M15 771.25h12.1v14.55h-5.85v-8.7h-6.25z M38.3 771.25h6.7l-6.25 14.55h-6.65z" fill="#131722"/><circle cx="32.1" cy="773.9" r="2.9" fill="#131722"/><path d="M1507.5 814.4l3.6 -6h7.2l3.6 6l-3.6 6h-7.2z" fill="none" stroke="#131722" stroke-width="1.1"/><circle cx="1514.4" cy="814.4" r="2" fill="none" stroke="#131722" stroke-width="1.1"/><defs><filter id="sh" x="-10%" y="-10%" width="130%" height="130%"><feGaussianBlur stdDeviation="0.9"/></filter></defs><g opacity="0.85"><g transform="translate(2.1,2.1)" fill="#25282e" filter="url(#sh)" opacity="0.85" font-size="59" font-weight="bold" font-family="'Liberation Sans','Noto Sans CJK SC',sans-serif"><text transform="translate(1299,786.1) skewX(-15)" x="0" y="0" textLength="59.5" lengthAdjust="spacingAndGlyphs">洛</text><text transform="translate(1360,786.1) skewX(-15)" x="0" y="0" textLength="59.5" lengthAdjust="spacingAndGlyphs">马</text><text transform="translate(1421,786.1) skewX(-15)" x="0" y="0" textLength="59.5" lengthAdjust="spacingAndGlyphs">财</text><text transform="translate(1482,786.1) skewX(-15)" x="0" y="0" textLength="59.5" lengthAdjust="spacingAndGlyphs">经</text></g><g transform="translate(0,0)" fill="#ffffff" font-size="59" font-weight="bold" font-family="'Liberation Sans','Noto Sans CJK SC',sans-serif"><text transform="translate(1299,786.1) skewX(-15)" x="0" y="0" textLength="59.5" lengthAdjust="spacingAndGlyphs">洛</text><text transform="translate(1360,786.1) skewX(-15)" x="0" y="0" textLength="59.5" lengthAdjust="spacingAndGlyphs">马</text><text transform="translate(1421,786.1) skewX(-15)" x="0" y="0" textLength="59.5" lengthAdjust="spacingAndGlyphs">财</text><text transform="translate(1482,786.1) skewX(-15)" x="0" y="0" textLength="59.5" lengthAdjust="spacingAndGlyphs">经</text></g></g><g opacity="0.7"><g font-weight="bold" font-style="italic" fill="#6d7a99" stroke="#6d7a99" stroke-width="1.2" stroke-linejoin="round" transform="translate(1.3,1.3)"><text x="1312.8" y="823" font-size="33" textLength="19.2" lengthAdjust="spacingAndGlyphs">z</text><text x="1339" y="823" font-size="33" textLength="19.3" lengthAdjust="spacingAndGlyphs">z</text><text x="1367.9" y="823" font-size="33" textLength="15.1" lengthAdjust="spacingAndGlyphs">r</text><text x="1392.6" y="823" font-size="32" textLength="13.6" lengthAdjust="spacingAndGlyphs">t</text><text x="1412.6" y="823" font-size="30.5" textLength="19.1" lengthAdjust="spacingAndGlyphs">0</text><text x="1446" y="823" font-size="30.5" textLength="13.7" lengthAdjust="spacingAndGlyphs">1</text><text x="1470" y="823" font-size="30.5" textLength="8" lengthAdjust="spacingAndGlyphs">.</text><text x="1490" y="823" font-size="33" textLength="16.3" lengthAdjust="spacingAndGlyphs">c</text><text x="1514" y="823" font-size="33" textLength="21.5" lengthAdjust="spacingAndGlyphs">n</text></g><g font-weight="bold" font-style="italic" fill="#5eb4ff" stroke="#5eb4ff" stroke-width="1.2" stroke-linejoin="round" transform="translate(0,0)"><text x="1312.8" y="823" font-size="33" textLength="19.2" lengthAdjust="spacingAndGlyphs">z</text><text x="1339" y="823" font-size="33" textLength="19.3" lengthAdjust="spacingAndGlyphs">z</text><text x="1367.9" y="823" font-size="33" textLength="15.1" lengthAdjust="spacingAndGlyphs">r</text><text x="1392.6" y="823" font-size="32" textLength="13.6" lengthAdjust="spacingAndGlyphs">t</text><text x="1412.6" y="823" font-size="30.5" textLength="19.1" lengthAdjust="spacingAndGlyphs">0</text><text x="1446" y="823" font-size="30.5" textLength="13.7" lengthAdjust="spacingAndGlyphs">1</text><text x="1470" y="823" font-size="30.5" textLength="8" lengthAdjust="spacingAndGlyphs">.</text><text x="1490" y="823" font-size="33" textLength="16.3" lengthAdjust="spacingAndGlyphs">c</text><text x="1514" y="823" font-size="33" textLength="21.5" lengthAdjust="spacingAndGlyphs">n</text></g></g></svg></body></html>
